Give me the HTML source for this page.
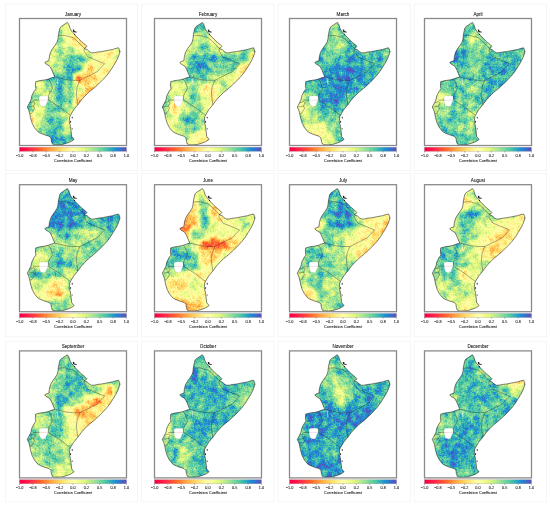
<!DOCTYPE html><html><head><meta charset="utf-8"><style>html,body{margin:0;padding:0;background:#fff;}svg{display:block;filter:saturate(1.35)}text{font-family:"Liberation Sans",sans-serif;stroke:#222;stroke-width:0.07px;}</style></head><body><svg width="550" height="507" viewBox="0 0 550 507"><defs><clipPath id="cl"><polygon points="47.9,3.9 49.3,6.0 50.7,10.3 52.1,12.5 54.0,14.7 56.5,17.6 59.4,20.5 62.3,23.4 65.2,25.6 67.4,27.8 66.5,29.0 64.8,29.8 66.0,30.6 67.6,31.0 69.6,32.9 71.8,34.3 74.7,34.3 77.6,33.6 82.1,33.1 87.6,32.0 93.0,31.0 96.3,29.9 99.0,29.3 100.1,31.5 100.1,34.8 98.5,39.1 96.3,43.5 93.6,47.9 90.9,52.2 87.6,56.6 83.5,61.0 79.0,65.5 74.0,70.0 69.0,74.0 65.5,77.5 62.0,81.3 58.1,86.6 54.2,91.3 51.8,95.3 50.2,98.4 49.8,103.2 51.0,107.9 51.6,112.6 52.2,118.0 54.6,120.9 51.4,123.1 47.8,124.5 43.2,125.9 38.7,126.3 35.0,126.3 32.8,125.4 31.9,122.7 31.4,119.5 29.6,117.7 25.0,116.3 20.5,114.5 18.1,113.0 14.9,109.1 12.7,104.8 11.0,99.3 10.3,95.4 9.3,91.8 7.8,88.5 10.0,84.4 11.5,81.2 12.3,77.3 14.3,73.3 16.5,70.2 15.9,67.8 16.2,63.2 20.5,62.1 25.5,61.4 28.8,60.6 32.3,59.2 35.3,58.5 34.3,56.2 33.3,53.8 32.3,51.3 30.4,47.8 28.5,46.6 26.4,45.4 25.3,43.9 27.0,42.9 29.4,42.3 29.9,38.0 31.0,33.7 33.4,29.7 35.7,26.6 37.7,23.4 38.5,20.3 38.9,16.3 39.7,12.4 40.5,9.2 42.1,7.7"/></clipPath><filter id="bl0" color-interpolation-filters="sRGB" x="-5%" y="-5%" width="110%" height="110%"><feGaussianBlur in="SourceGraphic" stdDeviation="2.7" result="sm"/><feTurbulence type="fractalNoise" baseFrequency="0.16" numOctaves="3" seed="3" result="nz"/><feColorMatrix in="nz" type="matrix" values="1 0 0 0 0 1 0 0 0 0 1 0 0 0 0 0 0 0 0 1" result="ng"/><feComposite in="sm" in2="ng" operator="arithmetic" k1="0" k2="1" k3="0.35" k4="-0.175" result="sum0"/><feTurbulence type="fractalNoise" baseFrequency="0.7" numOctaves="1" seed="7" result="nz2"/><feColorMatrix in="nz2" type="matrix" values="1 0 0 0 0 1 0 0 0 0 1 0 0 0 0 0 0 0 0 1" result="ng2"/><feComposite in="sum0" in2="ng2" operator="arithmetic" k1="0" k2="1" k3="0.25" k4="-0.125" result="sum"/><feComponentTransfer in="sum"><feFuncR type="table" tableValues="0.6196 0.8353 0.9569 0.9922 0.9961 1.0000 0.9020 0.6706 0.4000 0.1961 0.3686"/><feFuncG type="table" tableValues="0.0039 0.2431 0.4275 0.6824 0.8784 1.0000 0.9608 0.8667 0.7608 0.5333 0.3098"/><feFuncB type="table" tableValues="0.2588 0.3098 0.2627 0.3804 0.5451 0.7490 0.5961 0.6431 0.6471 0.7412 0.6353"/></feComponentTransfer></filter><filter id="bl1" color-interpolation-filters="sRGB" x="-5%" y="-5%" width="110%" height="110%"><feGaussianBlur in="SourceGraphic" stdDeviation="2.7" result="sm"/><feTurbulence type="fractalNoise" baseFrequency="0.16" numOctaves="3" seed="8" result="nz"/><feColorMatrix in="nz" type="matrix" values="1 0 0 0 0 1 0 0 0 0 1 0 0 0 0 0 0 0 0 1" result="ng"/><feComposite in="sm" in2="ng" operator="arithmetic" k1="0" k2="1" k3="0.35" k4="-0.175" result="sum0"/><feTurbulence type="fractalNoise" baseFrequency="0.7" numOctaves="1" seed="10" result="nz2"/><feColorMatrix in="nz2" type="matrix" values="1 0 0 0 0 1 0 0 0 0 1 0 0 0 0 0 0 0 0 1" result="ng2"/><feComposite in="sum0" in2="ng2" operator="arithmetic" k1="0" k2="1" k3="0.25" k4="-0.125" result="sum"/><feComponentTransfer in="sum"><feFuncR type="table" tableValues="0.6196 0.8353 0.9569 0.9922 0.9961 1.0000 0.9020 0.6706 0.4000 0.1961 0.3686"/><feFuncG type="table" tableValues="0.0039 0.2431 0.4275 0.6824 0.8784 1.0000 0.9608 0.8667 0.7608 0.5333 0.3098"/><feFuncB type="table" tableValues="0.2588 0.3098 0.2627 0.3804 0.5451 0.7490 0.5961 0.6431 0.6471 0.7412 0.6353"/></feComponentTransfer></filter><filter id="bl2" color-interpolation-filters="sRGB" x="-5%" y="-5%" width="110%" height="110%"><feGaussianBlur in="SourceGraphic" stdDeviation="2.7" result="sm"/><feTurbulence type="fractalNoise" baseFrequency="0.16" numOctaves="3" seed="13" result="nz"/><feColorMatrix in="nz" type="matrix" values="1 0 0 0 0 1 0 0 0 0 1 0 0 0 0 0 0 0 0 1" result="ng"/><feComposite in="sm" in2="ng" operator="arithmetic" k1="0" k2="1" k3="0.35" k4="-0.175" result="sum0"/><feTurbulence type="fractalNoise" baseFrequency="0.7" numOctaves="1" seed="13" result="nz2"/><feColorMatrix in="nz2" type="matrix" values="1 0 0 0 0 1 0 0 0 0 1 0 0 0 0 0 0 0 0 1" result="ng2"/><feComposite in="sum0" in2="ng2" operator="arithmetic" k1="0" k2="1" k3="0.25" k4="-0.125" result="sum"/><feComponentTransfer in="sum"><feFuncR type="table" tableValues="0.6196 0.8353 0.9569 0.9922 0.9961 1.0000 0.9020 0.6706 0.4000 0.1961 0.3686"/><feFuncG type="table" tableValues="0.0039 0.2431 0.4275 0.6824 0.8784 1.0000 0.9608 0.8667 0.7608 0.5333 0.3098"/><feFuncB type="table" tableValues="0.2588 0.3098 0.2627 0.3804 0.5451 0.7490 0.5961 0.6431 0.6471 0.7412 0.6353"/></feComponentTransfer></filter><filter id="bl3" color-interpolation-filters="sRGB" x="-5%" y="-5%" width="110%" height="110%"><feGaussianBlur in="SourceGraphic" stdDeviation="2.7" result="sm"/><feTurbulence type="fractalNoise" baseFrequency="0.16" numOctaves="3" seed="18" result="nz"/><feColorMatrix in="nz" type="matrix" values="1 0 0 0 0 1 0 0 0 0 1 0 0 0 0 0 0 0 0 1" result="ng"/><feComposite in="sm" in2="ng" operator="arithmetic" k1="0" k2="1" k3="0.35" k4="-0.175" result="sum0"/><feTurbulence type="fractalNoise" baseFrequency="0.7" numOctaves="1" seed="16" result="nz2"/><feColorMatrix in="nz2" type="matrix" values="1 0 0 0 0 1 0 0 0 0 1 0 0 0 0 0 0 0 0 1" result="ng2"/><feComposite in="sum0" in2="ng2" operator="arithmetic" k1="0" k2="1" k3="0.25" k4="-0.125" result="sum"/><feComponentTransfer in="sum"><feFuncR type="table" tableValues="0.6196 0.8353 0.9569 0.9922 0.9961 1.0000 0.9020 0.6706 0.4000 0.1961 0.3686"/><feFuncG type="table" tableValues="0.0039 0.2431 0.4275 0.6824 0.8784 1.0000 0.9608 0.8667 0.7608 0.5333 0.3098"/><feFuncB type="table" tableValues="0.2588 0.3098 0.2627 0.3804 0.5451 0.7490 0.5961 0.6431 0.6471 0.7412 0.6353"/></feComponentTransfer></filter><filter id="bl4" color-interpolation-filters="sRGB" x="-5%" y="-5%" width="110%" height="110%"><feGaussianBlur in="SourceGraphic" stdDeviation="2.7" result="sm"/><feTurbulence type="fractalNoise" baseFrequency="0.16" numOctaves="3" seed="23" result="nz"/><feColorMatrix in="nz" type="matrix" values="1 0 0 0 0 1 0 0 0 0 1 0 0 0 0 0 0 0 0 1" result="ng"/><feComposite in="sm" in2="ng" operator="arithmetic" k1="0" k2="1" k3="0.35" k4="-0.175" result="sum0"/><feTurbulence type="fractalNoise" baseFrequency="0.7" numOctaves="1" seed="19" result="nz2"/><feColorMatrix in="nz2" type="matrix" values="1 0 0 0 0 1 0 0 0 0 1 0 0 0 0 0 0 0 0 1" result="ng2"/><feComposite in="sum0" in2="ng2" operator="arithmetic" k1="0" k2="1" k3="0.25" k4="-0.125" result="sum"/><feComponentTransfer in="sum"><feFuncR type="table" tableValues="0.6196 0.8353 0.9569 0.9922 0.9961 1.0000 0.9020 0.6706 0.4000 0.1961 0.3686"/><feFuncG type="table" tableValues="0.0039 0.2431 0.4275 0.6824 0.8784 1.0000 0.9608 0.8667 0.7608 0.5333 0.3098"/><feFuncB type="table" tableValues="0.2588 0.3098 0.2627 0.3804 0.5451 0.7490 0.5961 0.6431 0.6471 0.7412 0.6353"/></feComponentTransfer></filter><filter id="bl5" color-interpolation-filters="sRGB" x="-5%" y="-5%" width="110%" height="110%"><feGaussianBlur in="SourceGraphic" stdDeviation="2.7" result="sm"/><feTurbulence type="fractalNoise" baseFrequency="0.16" numOctaves="3" seed="28" result="nz"/><feColorMatrix in="nz" type="matrix" values="1 0 0 0 0 1 0 0 0 0 1 0 0 0 0 0 0 0 0 1" result="ng"/><feComposite in="sm" in2="ng" operator="arithmetic" k1="0" k2="1" k3="0.35" k4="-0.175" result="sum0"/><feTurbulence type="fractalNoise" baseFrequency="0.7" numOctaves="1" seed="22" result="nz2"/><feColorMatrix in="nz2" type="matrix" values="1 0 0 0 0 1 0 0 0 0 1 0 0 0 0 0 0 0 0 1" result="ng2"/><feComposite in="sum0" in2="ng2" operator="arithmetic" k1="0" k2="1" k3="0.25" k4="-0.125" result="sum"/><feComponentTransfer in="sum"><feFuncR type="table" tableValues="0.6196 0.8353 0.9569 0.9922 0.9961 1.0000 0.9020 0.6706 0.4000 0.1961 0.3686"/><feFuncG type="table" tableValues="0.0039 0.2431 0.4275 0.6824 0.8784 1.0000 0.9608 0.8667 0.7608 0.5333 0.3098"/><feFuncB type="table" tableValues="0.2588 0.3098 0.2627 0.3804 0.5451 0.7490 0.5961 0.6431 0.6471 0.7412 0.6353"/></feComponentTransfer></filter><filter id="bl6" color-interpolation-filters="sRGB" x="-5%" y="-5%" width="110%" height="110%"><feGaussianBlur in="SourceGraphic" stdDeviation="2.7" result="sm"/><feTurbulence type="fractalNoise" baseFrequency="0.16" numOctaves="3" seed="33" result="nz"/><feColorMatrix in="nz" type="matrix" values="1 0 0 0 0 1 0 0 0 0 1 0 0 0 0 0 0 0 0 1" result="ng"/><feComposite in="sm" in2="ng" operator="arithmetic" k1="0" k2="1" k3="0.35" k4="-0.175" result="sum0"/><feTurbulence type="fractalNoise" baseFrequency="0.7" numOctaves="1" seed="25" result="nz2"/><feColorMatrix in="nz2" type="matrix" values="1 0 0 0 0 1 0 0 0 0 1 0 0 0 0 0 0 0 0 1" result="ng2"/><feComposite in="sum0" in2="ng2" operator="arithmetic" k1="0" k2="1" k3="0.25" k4="-0.125" result="sum"/><feComponentTransfer in="sum"><feFuncR type="table" tableValues="0.6196 0.8353 0.9569 0.9922 0.9961 1.0000 0.9020 0.6706 0.4000 0.1961 0.3686"/><feFuncG type="table" tableValues="0.0039 0.2431 0.4275 0.6824 0.8784 1.0000 0.9608 0.8667 0.7608 0.5333 0.3098"/><feFuncB type="table" tableValues="0.2588 0.3098 0.2627 0.3804 0.5451 0.7490 0.5961 0.6431 0.6471 0.7412 0.6353"/></feComponentTransfer></filter><filter id="bl7" color-interpolation-filters="sRGB" x="-5%" y="-5%" width="110%" height="110%"><feGaussianBlur in="SourceGraphic" stdDeviation="2.7" result="sm"/><feTurbulence type="fractalNoise" baseFrequency="0.16" numOctaves="3" seed="38" result="nz"/><feColorMatrix in="nz" type="matrix" values="1 0 0 0 0 1 0 0 0 0 1 0 0 0 0 0 0 0 0 1" result="ng"/><feComposite in="sm" in2="ng" operator="arithmetic" k1="0" k2="1" k3="0.35" k4="-0.175" result="sum0"/><feTurbulence type="fractalNoise" baseFrequency="0.7" numOctaves="1" seed="28" result="nz2"/><feColorMatrix in="nz2" type="matrix" values="1 0 0 0 0 1 0 0 0 0 1 0 0 0 0 0 0 0 0 1" result="ng2"/><feComposite in="sum0" in2="ng2" operator="arithmetic" k1="0" k2="1" k3="0.25" k4="-0.125" result="sum"/><feComponentTransfer in="sum"><feFuncR type="table" tableValues="0.6196 0.8353 0.9569 0.9922 0.9961 1.0000 0.9020 0.6706 0.4000 0.1961 0.3686"/><feFuncG type="table" tableValues="0.0039 0.2431 0.4275 0.6824 0.8784 1.0000 0.9608 0.8667 0.7608 0.5333 0.3098"/><feFuncB type="table" tableValues="0.2588 0.3098 0.2627 0.3804 0.5451 0.7490 0.5961 0.6431 0.6471 0.7412 0.6353"/></feComponentTransfer></filter><filter id="bl8" color-interpolation-filters="sRGB" x="-5%" y="-5%" width="110%" height="110%"><feGaussianBlur in="SourceGraphic" stdDeviation="2.7" result="sm"/><feTurbulence type="fractalNoise" baseFrequency="0.16" numOctaves="3" seed="43" result="nz"/><feColorMatrix in="nz" type="matrix" values="1 0 0 0 0 1 0 0 0 0 1 0 0 0 0 0 0 0 0 1" result="ng"/><feComposite in="sm" in2="ng" operator="arithmetic" k1="0" k2="1" k3="0.35" k4="-0.175" result="sum0"/><feTurbulence type="fractalNoise" baseFrequency="0.7" numOctaves="1" seed="31" result="nz2"/><feColorMatrix in="nz2" type="matrix" values="1 0 0 0 0 1 0 0 0 0 1 0 0 0 0 0 0 0 0 1" result="ng2"/><feComposite in="sum0" in2="ng2" operator="arithmetic" k1="0" k2="1" k3="0.25" k4="-0.125" result="sum"/><feComponentTransfer in="sum"><feFuncR type="table" tableValues="0.6196 0.8353 0.9569 0.9922 0.9961 1.0000 0.9020 0.6706 0.4000 0.1961 0.3686"/><feFuncG type="table" tableValues="0.0039 0.2431 0.4275 0.6824 0.8784 1.0000 0.9608 0.8667 0.7608 0.5333 0.3098"/><feFuncB type="table" tableValues="0.2588 0.3098 0.2627 0.3804 0.5451 0.7490 0.5961 0.6431 0.6471 0.7412 0.6353"/></feComponentTransfer></filter><filter id="bl9" color-interpolation-filters="sRGB" x="-5%" y="-5%" width="110%" height="110%"><feGaussianBlur in="SourceGraphic" stdDeviation="2.7" result="sm"/><feTurbulence type="fractalNoise" baseFrequency="0.16" numOctaves="3" seed="48" result="nz"/><feColorMatrix in="nz" type="matrix" values="1 0 0 0 0 1 0 0 0 0 1 0 0 0 0 0 0 0 0 1" result="ng"/><feComposite in="sm" in2="ng" operator="arithmetic" k1="0" k2="1" k3="0.35" k4="-0.175" result="sum0"/><feTurbulence type="fractalNoise" baseFrequency="0.7" numOctaves="1" seed="34" result="nz2"/><feColorMatrix in="nz2" type="matrix" values="1 0 0 0 0 1 0 0 0 0 1 0 0 0 0 0 0 0 0 1" result="ng2"/><feComposite in="sum0" in2="ng2" operator="arithmetic" k1="0" k2="1" k3="0.25" k4="-0.125" result="sum"/><feComponentTransfer in="sum"><feFuncR type="table" tableValues="0.6196 0.8353 0.9569 0.9922 0.9961 1.0000 0.9020 0.6706 0.4000 0.1961 0.3686"/><feFuncG type="table" tableValues="0.0039 0.2431 0.4275 0.6824 0.8784 1.0000 0.9608 0.8667 0.7608 0.5333 0.3098"/><feFuncB type="table" tableValues="0.2588 0.3098 0.2627 0.3804 0.5451 0.7490 0.5961 0.6431 0.6471 0.7412 0.6353"/></feComponentTransfer></filter><filter id="bl10" color-interpolation-filters="sRGB" x="-5%" y="-5%" width="110%" height="110%"><feGaussianBlur in="SourceGraphic" stdDeviation="2.7" result="sm"/><feTurbulence type="fractalNoise" baseFrequency="0.16" numOctaves="3" seed="53" result="nz"/><feColorMatrix in="nz" type="matrix" values="1 0 0 0 0 1 0 0 0 0 1 0 0 0 0 0 0 0 0 1" result="ng"/><feComposite in="sm" in2="ng" operator="arithmetic" k1="0" k2="1" k3="0.35" k4="-0.175" result="sum0"/><feTurbulence type="fractalNoise" baseFrequency="0.7" numOctaves="1" seed="37" result="nz2"/><feColorMatrix in="nz2" type="matrix" values="1 0 0 0 0 1 0 0 0 0 1 0 0 0 0 0 0 0 0 1" result="ng2"/><feComposite in="sum0" in2="ng2" operator="arithmetic" k1="0" k2="1" k3="0.25" k4="-0.125" result="sum"/><feComponentTransfer in="sum"><feFuncR type="table" tableValues="0.6196 0.8353 0.9569 0.9922 0.9961 1.0000 0.9020 0.6706 0.4000 0.1961 0.3686"/><feFuncG type="table" tableValues="0.0039 0.2431 0.4275 0.6824 0.8784 1.0000 0.9608 0.8667 0.7608 0.5333 0.3098"/><feFuncB type="table" tableValues="0.2588 0.3098 0.2627 0.3804 0.5451 0.7490 0.5961 0.6431 0.6471 0.7412 0.6353"/></feComponentTransfer></filter><filter id="bl11" color-interpolation-filters="sRGB" x="-5%" y="-5%" width="110%" height="110%"><feGaussianBlur in="SourceGraphic" stdDeviation="2.7" result="sm"/><feTurbulence type="fractalNoise" baseFrequency="0.16" numOctaves="3" seed="58" result="nz"/><feColorMatrix in="nz" type="matrix" values="1 0 0 0 0 1 0 0 0 0 1 0 0 0 0 0 0 0 0 1" result="ng"/><feComposite in="sm" in2="ng" operator="arithmetic" k1="0" k2="1" k3="0.35" k4="-0.175" result="sum0"/><feTurbulence type="fractalNoise" baseFrequency="0.7" numOctaves="1" seed="40" result="nz2"/><feColorMatrix in="nz2" type="matrix" values="1 0 0 0 0 1 0 0 0 0 1 0 0 0 0 0 0 0 0 1" result="ng2"/><feComposite in="sum0" in2="ng2" operator="arithmetic" k1="0" k2="1" k3="0.25" k4="-0.125" result="sum"/><feComponentTransfer in="sum"><feFuncR type="table" tableValues="0.6196 0.8353 0.9569 0.9922 0.9961 1.0000 0.9020 0.6706 0.4000 0.1961 0.3686"/><feFuncG type="table" tableValues="0.0039 0.2431 0.4275 0.6824 0.8784 1.0000 0.9608 0.8667 0.7608 0.5333 0.3098"/><feFuncB type="table" tableValues="0.2588 0.3098 0.2627 0.3804 0.5451 0.7490 0.5961 0.6431 0.6471 0.7412 0.6353"/></feComponentTransfer></filter><linearGradient id="cb"><stop offset="0.00" stop-color="#c4063f"/><stop offset="0.10" stop-color="#e0354e"/><stop offset="0.20" stop-color="#f46d43"/><stop offset="0.30" stop-color="#fdae61"/><stop offset="0.40" stop-color="#fee08b"/><stop offset="0.50" stop-color="#ffffbf"/><stop offset="0.60" stop-color="#e6f598"/><stop offset="0.70" stop-color="#abdda4"/><stop offset="0.80" stop-color="#66c2a5"/><stop offset="0.90" stop-color="#3288bd"/><stop offset="1.00" stop-color="#5e4fa2"/></linearGradient><g id="cbar"><rect x="0" y="128.8" width="107" height="4" fill="url(#cb)" stroke="#555" stroke-width="0.25" stroke-opacity="0.7"/><line x1="0.00" y1="132.8" x2="0.00" y2="133.9" stroke="#333" stroke-width="0.45"/><text x="0.00" y="138.5" font-size="3.8" text-anchor="middle" fill="#111">−1.0</text><line x1="13.38" y1="132.8" x2="13.38" y2="133.9" stroke="#333" stroke-width="0.45"/><text x="13.38" y="138.5" font-size="3.8" text-anchor="middle" fill="#111">−0.8</text><line x1="26.75" y1="132.8" x2="26.75" y2="133.9" stroke="#333" stroke-width="0.45"/><text x="26.75" y="138.5" font-size="3.8" text-anchor="middle" fill="#111">−0.5</text><line x1="40.12" y1="132.8" x2="40.12" y2="133.9" stroke="#333" stroke-width="0.45"/><text x="40.12" y="138.5" font-size="3.8" text-anchor="middle" fill="#111">−0.2</text><line x1="53.50" y1="132.8" x2="53.50" y2="133.9" stroke="#333" stroke-width="0.45"/><text x="53.50" y="138.5" font-size="3.8" text-anchor="middle" fill="#111">0.0</text><line x1="66.88" y1="132.8" x2="66.88" y2="133.9" stroke="#333" stroke-width="0.45"/><text x="66.88" y="138.5" font-size="3.8" text-anchor="middle" fill="#111">0.2</text><line x1="80.25" y1="132.8" x2="80.25" y2="133.9" stroke="#333" stroke-width="0.45"/><text x="80.25" y="138.5" font-size="3.8" text-anchor="middle" fill="#111">0.5</text><line x1="93.62" y1="132.8" x2="93.62" y2="133.9" stroke="#333" stroke-width="0.45"/><text x="93.62" y="138.5" font-size="3.8" text-anchor="middle" fill="#111">0.8</text><line x1="107.00" y1="132.8" x2="107.00" y2="133.9" stroke="#333" stroke-width="0.45"/><text x="107.00" y="138.5" font-size="3.8" text-anchor="middle" fill="#111">1.0</text><text x="53.5" y="143.3" font-size="3.85" text-anchor="middle" fill="#111">Correlation Coefficient</text></g><g id="bord" fill="none" stroke="#1c2030" stroke-width="0.45" stroke-opacity="0.85"><polyline points="38.9,17.3 45.2,16.9 49.2,18.1 52.5,18.6 55.5,20.6 58.5,23.5 61.5,26.5 64.8,29.8"/><polyline points="64.8,29.8 64.5,32.5 66.5,35.5 68.3,38.3 75.2,41.2 85.1,45.2 80.5,50.0 77.8,53.1 68.7,57.7 60.5,61.8"/><polyline points="60.5,61.8 53.2,61.8 47.0,61.2 42.3,60.0 35.3,58.5"/><polyline points="60.5,61.8 57.8,67.7 56.9,74.5 57.4,80.0 58.3,86.5"/><polyline points="28.8,60.6 30.6,63.0 32.3,67.2 32.9,70.1 31.7,72.5 30.0,74.8 29.1,77.2 28.8,81.6"/><polyline points="13.8,81.6 19.8,81.6"/><polyline points="28.9,81.5 40.0,88.5 50.5,96.5"/><polyline points="10.0,84.4 14.0,83.0 15.5,84.5 14.0,87.5 9.0,88.5"/><polyline points="14.0,87.5 15.0,90.0 12.0,95.0 10.3,95.4"/></g><g id="isl" fill="#1a1a1a"><path d="M53.3,11 L54.9,11.2 L54.7,12.6 L57.2,13.3 L57.3,14.1 L54.4,13.7 L53.6,13 Z"/><circle cx="55" cy="15.7" r="0.55"/><ellipse cx="52.7" cy="99.1" rx="0.5" ry="0.95"/><ellipse cx="51.1" cy="103.3" rx="0.5" ry="1.1"/><ellipse cx="52.7" cy="110.3" rx="0.5" ry="0.6"/><circle cx="100.6" cy="33.2" r="0.45"/></g></defs><rect x="5.3" y="4.1" width="132.4" height="166.4" fill="none" stroke="#f3f3f3" stroke-width="0.8"/><g transform="translate(19.5,18.5)"><text x="53.5" y="-3" font-size="4.6" text-anchor="middle" fill="#111">January</text><g clip-path="url(#cl)"><g filter="url(#bl0)"><rect x="-5" y="-5" width="10" height="10" fill="#b2b2b2"/><rect x="5" y="-5" width="10" height="10" fill="#b2b2b2"/><rect x="15" y="-5" width="10" height="10" fill="#b2b2b2"/><rect x="25" y="-5" width="10" height="10" fill="#b2b2b2"/><rect x="35" y="-5" width="10" height="10" fill="#b2b2b2"/><rect x="45" y="-5" width="10" height="10" fill="#999999"/><rect x="55" y="-5" width="10" height="10" fill="#8c8c8c"/><rect x="65" y="-5" width="10" height="10" fill="#828282"/><rect x="75" y="-5" width="10" height="10" fill="#808080"/><rect x="85" y="-5" width="10" height="10" fill="#808080"/><rect x="95" y="-5" width="10" height="10" fill="#999999"/><rect x="-5" y="5" width="10" height="10" fill="#b2b2b2"/><rect x="5" y="5" width="10" height="10" fill="#b2b2b2"/><rect x="15" y="5" width="10" height="10" fill="#b2b2b2"/><rect x="25" y="5" width="10" height="10" fill="#b2b2b2"/><rect x="35" y="5" width="10" height="10" fill="#b2b2b2"/><rect x="45" y="5" width="10" height="10" fill="#999999"/><rect x="55" y="5" width="10" height="10" fill="#7e7e7e"/><rect x="65" y="5" width="10" height="10" fill="#787878"/><rect x="75" y="5" width="10" height="10" fill="#808080"/><rect x="85" y="5" width="10" height="10" fill="#808080"/><rect x="95" y="5" width="10" height="10" fill="#999999"/><rect x="-5" y="15" width="10" height="10" fill="#9b9b9b"/><rect x="5" y="15" width="10" height="10" fill="#9c9c9c"/><rect x="15" y="15" width="10" height="10" fill="#9f9f9f"/><rect x="25" y="15" width="10" height="10" fill="#a6a6a6"/><rect x="35" y="15" width="10" height="10" fill="#b2b2b2"/><rect x="45" y="15" width="10" height="10" fill="#808080"/><rect x="55" y="15" width="10" height="10" fill="#636363"/><rect x="65" y="15" width="10" height="10" fill="#717171"/><rect x="75" y="15" width="10" height="10" fill="#808080"/><rect x="85" y="15" width="10" height="10" fill="#808080"/><rect x="95" y="15" width="10" height="10" fill="#999999"/><rect x="-5" y="25" width="10" height="10" fill="#999999"/><rect x="5" y="25" width="10" height="10" fill="#999999"/><rect x="15" y="25" width="10" height="10" fill="#999999"/><rect x="25" y="25" width="10" height="10" fill="#999999"/><rect x="35" y="25" width="10" height="10" fill="#b2b2b2"/><rect x="45" y="25" width="10" height="10" fill="#b2b2b2"/><rect x="55" y="25" width="10" height="10" fill="#808080"/><rect x="65" y="25" width="10" height="10" fill="#808080"/><rect x="75" y="25" width="10" height="10" fill="#808080"/><rect x="85" y="25" width="10" height="10" fill="#808080"/><rect x="95" y="25" width="10" height="10" fill="#999999"/><rect x="-5" y="35" width="10" height="10" fill="#999999"/><rect x="5" y="35" width="10" height="10" fill="#999999"/><rect x="15" y="35" width="10" height="10" fill="#999999"/><rect x="25" y="35" width="10" height="10" fill="#999999"/><rect x="35" y="35" width="10" height="10" fill="#b2b2b2"/><rect x="45" y="35" width="10" height="10" fill="#c8c8c8"/><rect x="55" y="35" width="10" height="10" fill="#d6d6d6"/><rect x="65" y="35" width="10" height="10" fill="#b2b2b2"/><rect x="75" y="35" width="10" height="10" fill="#808080"/><rect x="85" y="35" width="10" height="10" fill="#808080"/><rect x="95" y="35" width="10" height="10" fill="#999999"/><rect x="-5" y="45" width="10" height="10" fill="#afafaf"/><rect x="5" y="45" width="10" height="10" fill="#acacac"/><rect x="15" y="45" width="10" height="10" fill="#a6a6a6"/><rect x="25" y="45" width="10" height="10" fill="#999999"/><rect x="35" y="45" width="10" height="10" fill="#b2b2b2"/><rect x="45" y="45" width="10" height="10" fill="#e2e2e2"/><rect x="55" y="45" width="10" height="10" fill="#d6d6d6"/><rect x="65" y="45" width="10" height="10" fill="#636363"/><rect x="75" y="45" width="10" height="10" fill="#808080"/><rect x="85" y="45" width="10" height="10" fill="#808080"/><rect x="95" y="45" width="10" height="10" fill="#8c8c8c"/><rect x="-5" y="55" width="10" height="10" fill="#b2b2b2"/><rect x="5" y="55" width="10" height="10" fill="#b2b2b2"/><rect x="15" y="55" width="10" height="10" fill="#b2b2b2"/><rect x="25" y="55" width="10" height="10" fill="#d6d6d6"/><rect x="35" y="55" width="10" height="10" fill="#e2e2e2"/><rect x="45" y="55" width="10" height="10" fill="#d6d6d6"/><rect x="55" y="55" width="10" height="10" fill="#4a4a4a"/><rect x="65" y="55" width="10" height="10" fill="#636363"/><rect x="75" y="55" width="10" height="10" fill="#808080"/><rect x="85" y="55" width="10" height="10" fill="#808080"/><rect x="95" y="55" width="10" height="10" fill="#808080"/><rect x="-5" y="65" width="10" height="10" fill="#bcbcbc"/><rect x="5" y="65" width="10" height="10" fill="#b1b1b1"/><rect x="15" y="65" width="10" height="10" fill="#999999"/><rect x="25" y="65" width="10" height="10" fill="#b2b2b2"/><rect x="35" y="65" width="10" height="10" fill="#d6d6d6"/><rect x="45" y="65" width="10" height="10" fill="#c8c8c8"/><rect x="55" y="65" width="10" height="10" fill="#999999"/><rect x="65" y="65" width="10" height="10" fill="#636363"/><rect x="75" y="65" width="10" height="10" fill="#717171"/><rect x="85" y="65" width="10" height="10" fill="#808080"/><rect x="95" y="65" width="10" height="10" fill="#808080"/><rect x="-5" y="75" width="10" height="10" fill="#c8c8c8"/><rect x="5" y="75" width="10" height="10" fill="#c8c8c8"/><rect x="15" y="75" width="10" height="10" fill="#b2b2b2"/><rect x="25" y="75" width="10" height="10" fill="#b2b2b2"/><rect x="35" y="75" width="10" height="10" fill="#e2e2e2"/><rect x="45" y="75" width="10" height="10" fill="#c8c8c8"/><rect x="55" y="75" width="10" height="10" fill="#636363"/><rect x="65" y="75" width="10" height="10" fill="#636363"/><rect x="75" y="75" width="10" height="10" fill="#6a6a6a"/><rect x="85" y="75" width="10" height="10" fill="#808080"/><rect x="95" y="75" width="10" height="10" fill="#808080"/><rect x="-5" y="85" width="10" height="10" fill="#c8c8c8"/><rect x="5" y="85" width="10" height="10" fill="#c8c8c8"/><rect x="15" y="85" width="10" height="10" fill="#999999"/><rect x="25" y="85" width="10" height="10" fill="#c8c8c8"/><rect x="35" y="85" width="10" height="10" fill="#c8c8c8"/><rect x="45" y="85" width="10" height="10" fill="#b2b2b2"/><rect x="55" y="85" width="10" height="10" fill="#8b8b8b"/><rect x="65" y="85" width="10" height="10" fill="#777777"/><rect x="75" y="85" width="10" height="10" fill="#717171"/><rect x="85" y="85" width="10" height="10" fill="#808080"/><rect x="95" y="85" width="10" height="10" fill="#808080"/><rect x="-5" y="95" width="10" height="10" fill="#636363"/><rect x="5" y="95" width="10" height="10" fill="#636363"/><rect x="15" y="95" width="10" height="10" fill="#999999"/><rect x="25" y="95" width="10" height="10" fill="#d6d6d6"/><rect x="35" y="95" width="10" height="10" fill="#c8c8c8"/><rect x="45" y="95" width="10" height="10" fill="#999999"/><rect x="55" y="95" width="10" height="10" fill="#999999"/><rect x="65" y="95" width="10" height="10" fill="#999999"/><rect x="75" y="95" width="10" height="10" fill="#999999"/><rect x="85" y="95" width="10" height="10" fill="#8c8c8c"/><rect x="95" y="95" width="10" height="10" fill="#868686"/><rect x="-5" y="105" width="10" height="10" fill="#999999"/><rect x="5" y="105" width="10" height="10" fill="#999999"/><rect x="15" y="105" width="10" height="10" fill="#b2b2b2"/><rect x="25" y="105" width="10" height="10" fill="#d6d6d6"/><rect x="35" y="105" width="10" height="10" fill="#d6d6d6"/><rect x="45" y="105" width="10" height="10" fill="#999999"/><rect x="55" y="105" width="10" height="10" fill="#999999"/><rect x="65" y="105" width="10" height="10" fill="#999999"/><rect x="75" y="105" width="10" height="10" fill="#999999"/><rect x="85" y="105" width="10" height="10" fill="#999999"/><rect x="95" y="105" width="10" height="10" fill="#999999"/><rect x="-5" y="115" width="10" height="10" fill="#9f9f9f"/><rect x="5" y="115" width="10" height="10" fill="#a6a6a6"/><rect x="15" y="115" width="10" height="10" fill="#b2b2b2"/><rect x="25" y="115" width="10" height="10" fill="#e2e2e2"/><rect x="35" y="115" width="10" height="10" fill="#e2e2e2"/><rect x="45" y="115" width="10" height="10" fill="#d6d6d6"/><rect x="55" y="115" width="10" height="10" fill="#d6d6d6"/><rect x="65" y="115" width="10" height="10" fill="#d6d6d6"/><rect x="75" y="115" width="10" height="10" fill="#d6d6d6"/><rect x="85" y="115" width="10" height="10" fill="#d6d6d6"/><rect x="95" y="115" width="10" height="10" fill="#d6d6d6"/><rect x="-5" y="125" width="10" height="10" fill="#a6a6a6"/><rect x="5" y="125" width="10" height="10" fill="#acacac"/><rect x="15" y="125" width="10" height="10" fill="#b2b2b2"/><rect x="25" y="125" width="10" height="10" fill="#e2e2e2"/><rect x="35" y="125" width="10" height="10" fill="#e2e2e2"/><rect x="45" y="125" width="10" height="10" fill="#d6d6d6"/><rect x="55" y="125" width="10" height="10" fill="#d6d6d6"/><rect x="65" y="125" width="10" height="10" fill="#d6d6d6"/><rect x="75" y="125" width="10" height="10" fill="#d6d6d6"/><rect x="85" y="125" width="10" height="10" fill="#d6d6d6"/><rect x="95" y="125" width="10" height="10" fill="#d6d6d6"/></g></g><polygon points="19.6,78.5 20.5,77.6 22.5,77.4 25.0,77.3 27.5,77.4 28.6,78.0 28.8,81.6 27.2,84.4 26.0,87.6 23.6,88.1 21.0,87.0 20.0,84.6 19.6,82.0" fill="#fff" stroke="#666" stroke-width="0.25" stroke-opacity="0.4"/><polyline points="37.5,59.2 37.9,62 38.5,66.3" fill="none" stroke="#fff" stroke-width="0.9" stroke-opacity="0.6"/><line x1="19.8" y1="81.7" x2="28.8" y2="81.7" stroke="#9a7a70" stroke-width="0.35" stroke-opacity="0.6"/><use href="#bord"/><use href="#isl"/><polygon points="47.9,3.9 49.3,6.0 50.7,10.3 52.1,12.5 54.0,14.7 56.5,17.6 59.4,20.5 62.3,23.4 65.2,25.6 67.4,27.8 66.5,29.0 64.8,29.8 66.0,30.6 67.6,31.0 69.6,32.9 71.8,34.3 74.7,34.3 77.6,33.6 82.1,33.1 87.6,32.0 93.0,31.0 96.3,29.9 99.0,29.3 100.1,31.5 100.1,34.8 98.5,39.1 96.3,43.5 93.6,47.9 90.9,52.2 87.6,56.6 83.5,61.0 79.0,65.5 74.0,70.0 69.0,74.0 65.5,77.5 62.0,81.3 58.1,86.6 54.2,91.3 51.8,95.3 50.2,98.4 49.8,103.2 51.0,107.9 51.6,112.6 52.2,118.0 54.6,120.9 51.4,123.1 47.8,124.5 43.2,125.9 38.7,126.3 35.0,126.3 32.8,125.4 31.9,122.7 31.4,119.5 29.6,117.7 25.0,116.3 20.5,114.5 18.1,113.0 14.9,109.1 12.7,104.8 11.0,99.3 10.3,95.4 9.3,91.8 7.8,88.5 10.0,84.4 11.5,81.2 12.3,77.3 14.3,73.3 16.5,70.2 15.9,67.8 16.2,63.2 20.5,62.1 25.5,61.4 28.8,60.6 32.3,59.2 35.3,58.5 34.3,56.2 33.3,53.8 32.3,51.3 30.4,47.8 28.5,46.6 26.4,45.4 25.3,43.9 27.0,42.9 29.4,42.3 29.9,38.0 31.0,33.7 33.4,29.7 35.7,26.6 37.7,23.4 38.5,20.3 38.9,16.3 39.7,12.4 40.5,9.2 42.1,7.7" fill="none" stroke="#151515" stroke-width="0.6" stroke-opacity="0.9"/><rect x="0" y="0" width="107" height="127" fill="none" stroke="#8a8a8a" stroke-width="1.3"/><use href="#cbar"/></g><rect x="141.6" y="4.1" width="132.4" height="166.4" fill="none" stroke="#f3f3f3" stroke-width="0.8"/><g transform="translate(154.5,18.5)"><text x="53.5" y="-3" font-size="4.6" text-anchor="middle" fill="#111">February</text><g clip-path="url(#cl)"><g filter="url(#bl1)"><rect x="-5" y="-5" width="10" height="10" fill="#d6d6d6"/><rect x="5" y="-5" width="10" height="10" fill="#d6d6d6"/><rect x="15" y="-5" width="10" height="10" fill="#d6d6d6"/><rect x="25" y="-5" width="10" height="10" fill="#d6d6d6"/><rect x="35" y="-5" width="10" height="10" fill="#d6d6d6"/><rect x="45" y="-5" width="10" height="10" fill="#c8c8c8"/><rect x="55" y="-5" width="10" height="10" fill="#b6b6b6"/><rect x="65" y="-5" width="10" height="10" fill="#a4a4a4"/><rect x="75" y="-5" width="10" height="10" fill="#999999"/><rect x="85" y="-5" width="10" height="10" fill="#d6d6d6"/><rect x="95" y="-5" width="10" height="10" fill="#b2b2b2"/><rect x="-5" y="5" width="10" height="10" fill="#d6d6d6"/><rect x="5" y="5" width="10" height="10" fill="#d6d6d6"/><rect x="15" y="5" width="10" height="10" fill="#d6d6d6"/><rect x="25" y="5" width="10" height="10" fill="#d6d6d6"/><rect x="35" y="5" width="10" height="10" fill="#d6d6d6"/><rect x="45" y="5" width="10" height="10" fill="#c8c8c8"/><rect x="55" y="5" width="10" height="10" fill="#a4a4a4"/><rect x="65" y="5" width="10" height="10" fill="#929292"/><rect x="75" y="5" width="10" height="10" fill="#999999"/><rect x="85" y="5" width="10" height="10" fill="#d6d6d6"/><rect x="95" y="5" width="10" height="10" fill="#b2b2b2"/><rect x="-5" y="15" width="10" height="10" fill="#999999"/><rect x="5" y="15" width="10" height="10" fill="#999999"/><rect x="15" y="15" width="10" height="10" fill="#999999"/><rect x="25" y="15" width="10" height="10" fill="#999999"/><rect x="35" y="15" width="10" height="10" fill="#999999"/><rect x="45" y="15" width="10" height="10" fill="#b2b2b2"/><rect x="55" y="15" width="10" height="10" fill="#808080"/><rect x="65" y="15" width="10" height="10" fill="#808080"/><rect x="75" y="15" width="10" height="10" fill="#999999"/><rect x="85" y="15" width="10" height="10" fill="#d6d6d6"/><rect x="95" y="15" width="10" height="10" fill="#b2b2b2"/><rect x="-5" y="25" width="10" height="10" fill="#999999"/><rect x="5" y="25" width="10" height="10" fill="#999999"/><rect x="15" y="25" width="10" height="10" fill="#999999"/><rect x="25" y="25" width="10" height="10" fill="#999999"/><rect x="35" y="25" width="10" height="10" fill="#b2b2b2"/><rect x="45" y="25" width="10" height="10" fill="#c8c8c8"/><rect x="55" y="25" width="10" height="10" fill="#b2b2b2"/><rect x="65" y="25" width="10" height="10" fill="#808080"/><rect x="75" y="25" width="10" height="10" fill="#999999"/><rect x="85" y="25" width="10" height="10" fill="#d6d6d6"/><rect x="95" y="25" width="10" height="10" fill="#b2b2b2"/><rect x="-5" y="35" width="10" height="10" fill="#999999"/><rect x="5" y="35" width="10" height="10" fill="#999999"/><rect x="15" y="35" width="10" height="10" fill="#999999"/><rect x="25" y="35" width="10" height="10" fill="#999999"/><rect x="35" y="35" width="10" height="10" fill="#e2e2e2"/><rect x="45" y="35" width="10" height="10" fill="#e2e2e2"/><rect x="55" y="35" width="10" height="10" fill="#d6d6d6"/><rect x="65" y="35" width="10" height="10" fill="#d6d6d6"/><rect x="75" y="35" width="10" height="10" fill="#d6d6d6"/><rect x="85" y="35" width="10" height="10" fill="#e2e2e2"/><rect x="95" y="35" width="10" height="10" fill="#4a4a4a"/><rect x="-5" y="45" width="10" height="10" fill="#b2b2b2"/><rect x="5" y="45" width="10" height="10" fill="#b2b2b2"/><rect x="15" y="45" width="10" height="10" fill="#b2b2b2"/><rect x="25" y="45" width="10" height="10" fill="#b2b2b2"/><rect x="35" y="45" width="10" height="10" fill="#ececec"/><rect x="45" y="45" width="10" height="10" fill="#e2e2e2"/><rect x="55" y="45" width="10" height="10" fill="#c8c8c8"/><rect x="65" y="45" width="10" height="10" fill="#c8c8c8"/><rect x="75" y="45" width="10" height="10" fill="#c8c8c8"/><rect x="85" y="45" width="10" height="10" fill="#636363"/><rect x="95" y="45" width="10" height="10" fill="#575757"/><rect x="-5" y="55" width="10" height="10" fill="#b2b2b2"/><rect x="5" y="55" width="10" height="10" fill="#b2b2b2"/><rect x="15" y="55" width="10" height="10" fill="#b2b2b2"/><rect x="25" y="55" width="10" height="10" fill="#c8c8c8"/><rect x="35" y="55" width="10" height="10" fill="#c8c8c8"/><rect x="45" y="55" width="10" height="10" fill="#d6d6d6"/><rect x="55" y="55" width="10" height="10" fill="#b2b2b2"/><rect x="65" y="55" width="10" height="10" fill="#b2b2b2"/><rect x="75" y="55" width="10" height="10" fill="#808080"/><rect x="85" y="55" width="10" height="10" fill="#808080"/><rect x="95" y="55" width="10" height="10" fill="#808080"/><rect x="-5" y="65" width="10" height="10" fill="#bcbcbc"/><rect x="5" y="65" width="10" height="10" fill="#b1b1b1"/><rect x="15" y="65" width="10" height="10" fill="#999999"/><rect x="25" y="65" width="10" height="10" fill="#999999"/><rect x="35" y="65" width="10" height="10" fill="#c8c8c8"/><rect x="45" y="65" width="10" height="10" fill="#636363"/><rect x="55" y="65" width="10" height="10" fill="#808080"/><rect x="65" y="65" width="10" height="10" fill="#b2b2b2"/><rect x="75" y="65" width="10" height="10" fill="#999999"/><rect x="85" y="65" width="10" height="10" fill="#808080"/><rect x="95" y="65" width="10" height="10" fill="#808080"/><rect x="-5" y="75" width="10" height="10" fill="#c8c8c8"/><rect x="5" y="75" width="10" height="10" fill="#c8c8c8"/><rect x="15" y="75" width="10" height="10" fill="#999999"/><rect x="25" y="75" width="10" height="10" fill="#b2b2b2"/><rect x="35" y="75" width="10" height="10" fill="#d6d6d6"/><rect x="45" y="75" width="10" height="10" fill="#999999"/><rect x="55" y="75" width="10" height="10" fill="#808080"/><rect x="65" y="75" width="10" height="10" fill="#999999"/><rect x="75" y="75" width="10" height="10" fill="#999999"/><rect x="85" y="75" width="10" height="10" fill="#808080"/><rect x="95" y="75" width="10" height="10" fill="#808080"/><rect x="-5" y="85" width="10" height="10" fill="#c8c8c8"/><rect x="5" y="85" width="10" height="10" fill="#c8c8c8"/><rect x="15" y="85" width="10" height="10" fill="#636363"/><rect x="25" y="85" width="10" height="10" fill="#999999"/><rect x="35" y="85" width="10" height="10" fill="#c8c8c8"/><rect x="45" y="85" width="10" height="10" fill="#999999"/><rect x="55" y="85" width="10" height="10" fill="#8c8c8c"/><rect x="65" y="85" width="10" height="10" fill="#939393"/><rect x="75" y="85" width="10" height="10" fill="#969696"/><rect x="85" y="85" width="10" height="10" fill="#808080"/><rect x="95" y="85" width="10" height="10" fill="#808080"/><rect x="-5" y="95" width="10" height="10" fill="#999999"/><rect x="5" y="95" width="10" height="10" fill="#999999"/><rect x="15" y="95" width="10" height="10" fill="#999999"/><rect x="25" y="95" width="10" height="10" fill="#d6d6d6"/><rect x="35" y="95" width="10" height="10" fill="#d6d6d6"/><rect x="45" y="95" width="10" height="10" fill="#b2b2b2"/><rect x="55" y="95" width="10" height="10" fill="#b2b2b2"/><rect x="65" y="95" width="10" height="10" fill="#b2b2b2"/><rect x="75" y="95" width="10" height="10" fill="#b2b2b2"/><rect x="85" y="95" width="10" height="10" fill="#999999"/><rect x="95" y="95" width="10" height="10" fill="#8c8c8c"/><rect x="-5" y="105" width="10" height="10" fill="#808080"/><rect x="5" y="105" width="10" height="10" fill="#808080"/><rect x="15" y="105" width="10" height="10" fill="#999999"/><rect x="25" y="105" width="10" height="10" fill="#c8c8c8"/><rect x="35" y="105" width="10" height="10" fill="#c8c8c8"/><rect x="45" y="105" width="10" height="10" fill="#999999"/><rect x="55" y="105" width="10" height="10" fill="#999999"/><rect x="65" y="105" width="10" height="10" fill="#999999"/><rect x="75" y="105" width="10" height="10" fill="#999999"/><rect x="85" y="105" width="10" height="10" fill="#999999"/><rect x="95" y="105" width="10" height="10" fill="#999999"/><rect x="-5" y="115" width="10" height="10" fill="#808080"/><rect x="5" y="115" width="10" height="10" fill="#808080"/><rect x="15" y="115" width="10" height="10" fill="#808080"/><rect x="25" y="115" width="10" height="10" fill="#b2b2b2"/><rect x="35" y="115" width="10" height="10" fill="#808080"/><rect x="45" y="115" width="10" height="10" fill="#808080"/><rect x="55" y="115" width="10" height="10" fill="#808080"/><rect x="65" y="115" width="10" height="10" fill="#808080"/><rect x="75" y="115" width="10" height="10" fill="#808080"/><rect x="85" y="115" width="10" height="10" fill="#808080"/><rect x="95" y="115" width="10" height="10" fill="#808080"/><rect x="-5" y="125" width="10" height="10" fill="#808080"/><rect x="5" y="125" width="10" height="10" fill="#808080"/><rect x="15" y="125" width="10" height="10" fill="#808080"/><rect x="25" y="125" width="10" height="10" fill="#b2b2b2"/><rect x="35" y="125" width="10" height="10" fill="#808080"/><rect x="45" y="125" width="10" height="10" fill="#808080"/><rect x="55" y="125" width="10" height="10" fill="#808080"/><rect x="65" y="125" width="10" height="10" fill="#808080"/><rect x="75" y="125" width="10" height="10" fill="#808080"/><rect x="85" y="125" width="10" height="10" fill="#808080"/><rect x="95" y="125" width="10" height="10" fill="#808080"/></g></g><polygon points="19.6,78.5 20.5,77.6 22.5,77.4 25.0,77.3 27.5,77.4 28.6,78.0 28.8,81.6 27.2,84.4 26.0,87.6 23.6,88.1 21.0,87.0 20.0,84.6 19.6,82.0" fill="#fff" stroke="#666" stroke-width="0.25" stroke-opacity="0.4"/><polyline points="37.5,59.2 37.9,62 38.5,66.3" fill="none" stroke="#fff" stroke-width="0.9" stroke-opacity="0.6"/><line x1="19.8" y1="81.7" x2="28.8" y2="81.7" stroke="#9a7a70" stroke-width="0.35" stroke-opacity="0.6"/><use href="#bord"/><use href="#isl"/><polygon points="47.9,3.9 49.3,6.0 50.7,10.3 52.1,12.5 54.0,14.7 56.5,17.6 59.4,20.5 62.3,23.4 65.2,25.6 67.4,27.8 66.5,29.0 64.8,29.8 66.0,30.6 67.6,31.0 69.6,32.9 71.8,34.3 74.7,34.3 77.6,33.6 82.1,33.1 87.6,32.0 93.0,31.0 96.3,29.9 99.0,29.3 100.1,31.5 100.1,34.8 98.5,39.1 96.3,43.5 93.6,47.9 90.9,52.2 87.6,56.6 83.5,61.0 79.0,65.5 74.0,70.0 69.0,74.0 65.5,77.5 62.0,81.3 58.1,86.6 54.2,91.3 51.8,95.3 50.2,98.4 49.8,103.2 51.0,107.9 51.6,112.6 52.2,118.0 54.6,120.9 51.4,123.1 47.8,124.5 43.2,125.9 38.7,126.3 35.0,126.3 32.8,125.4 31.9,122.7 31.4,119.5 29.6,117.7 25.0,116.3 20.5,114.5 18.1,113.0 14.9,109.1 12.7,104.8 11.0,99.3 10.3,95.4 9.3,91.8 7.8,88.5 10.0,84.4 11.5,81.2 12.3,77.3 14.3,73.3 16.5,70.2 15.9,67.8 16.2,63.2 20.5,62.1 25.5,61.4 28.8,60.6 32.3,59.2 35.3,58.5 34.3,56.2 33.3,53.8 32.3,51.3 30.4,47.8 28.5,46.6 26.4,45.4 25.3,43.9 27.0,42.9 29.4,42.3 29.9,38.0 31.0,33.7 33.4,29.7 35.7,26.6 37.7,23.4 38.5,20.3 38.9,16.3 39.7,12.4 40.5,9.2 42.1,7.7" fill="none" stroke="#151515" stroke-width="0.6" stroke-opacity="0.9"/><rect x="0" y="0" width="107" height="127" fill="none" stroke="#8a8a8a" stroke-width="1.3"/><use href="#cbar"/></g><rect x="277.9" y="4.1" width="132.4" height="166.4" fill="none" stroke="#f3f3f3" stroke-width="0.8"/><g transform="translate(289.5,18.5)"><text x="53.5" y="-3" font-size="4.6" text-anchor="middle" fill="#111">March</text><g clip-path="url(#cl)"><g filter="url(#bl2)"><rect x="-5" y="-5" width="10" height="10" fill="#b2b2b2"/><rect x="5" y="-5" width="10" height="10" fill="#b2b2b2"/><rect x="15" y="-5" width="10" height="10" fill="#b2b2b2"/><rect x="25" y="-5" width="10" height="10" fill="#b2b2b2"/><rect x="35" y="-5" width="10" height="10" fill="#b2b2b2"/><rect x="45" y="-5" width="10" height="10" fill="#d6d6d6"/><rect x="55" y="-5" width="10" height="10" fill="#d6d6d6"/><rect x="65" y="-5" width="10" height="10" fill="#d6d6d6"/><rect x="75" y="-5" width="10" height="10" fill="#d6d6d6"/><rect x="85" y="-5" width="10" height="10" fill="#d6d6d6"/><rect x="95" y="-5" width="10" height="10" fill="#c8c8c8"/><rect x="-5" y="5" width="10" height="10" fill="#b2b2b2"/><rect x="5" y="5" width="10" height="10" fill="#b2b2b2"/><rect x="15" y="5" width="10" height="10" fill="#b2b2b2"/><rect x="25" y="5" width="10" height="10" fill="#b2b2b2"/><rect x="35" y="5" width="10" height="10" fill="#b2b2b2"/><rect x="45" y="5" width="10" height="10" fill="#d6d6d6"/><rect x="55" y="5" width="10" height="10" fill="#d6d6d6"/><rect x="65" y="5" width="10" height="10" fill="#d6d6d6"/><rect x="75" y="5" width="10" height="10" fill="#d6d6d6"/><rect x="85" y="5" width="10" height="10" fill="#d6d6d6"/><rect x="95" y="5" width="10" height="10" fill="#c8c8c8"/><rect x="-5" y="15" width="10" height="10" fill="#d5d5d5"/><rect x="5" y="15" width="10" height="10" fill="#d4d4d4"/><rect x="15" y="15" width="10" height="10" fill="#d3d3d3"/><rect x="25" y="15" width="10" height="10" fill="#cfcfcf"/><rect x="35" y="15" width="10" height="10" fill="#c8c8c8"/><rect x="45" y="15" width="10" height="10" fill="#b2b2b2"/><rect x="55" y="15" width="10" height="10" fill="#d6d6d6"/><rect x="65" y="15" width="10" height="10" fill="#d6d6d6"/><rect x="75" y="15" width="10" height="10" fill="#d6d6d6"/><rect x="85" y="15" width="10" height="10" fill="#d6d6d6"/><rect x="95" y="15" width="10" height="10" fill="#c8c8c8"/><rect x="-5" y="25" width="10" height="10" fill="#d6d6d6"/><rect x="5" y="25" width="10" height="10" fill="#d6d6d6"/><rect x="15" y="25" width="10" height="10" fill="#d6d6d6"/><rect x="25" y="25" width="10" height="10" fill="#d6d6d6"/><rect x="35" y="25" width="10" height="10" fill="#c8c8c8"/><rect x="45" y="25" width="10" height="10" fill="#b2b2b2"/><rect x="55" y="25" width="10" height="10" fill="#d6d6d6"/><rect x="65" y="25" width="10" height="10" fill="#d6d6d6"/><rect x="75" y="25" width="10" height="10" fill="#d6d6d6"/><rect x="85" y="25" width="10" height="10" fill="#d6d6d6"/><rect x="95" y="25" width="10" height="10" fill="#c8c8c8"/><rect x="-5" y="35" width="10" height="10" fill="#e2e2e2"/><rect x="5" y="35" width="10" height="10" fill="#e2e2e2"/><rect x="15" y="35" width="10" height="10" fill="#e2e2e2"/><rect x="25" y="35" width="10" height="10" fill="#e2e2e2"/><rect x="35" y="35" width="10" height="10" fill="#c8c8c8"/><rect x="45" y="35" width="10" height="10" fill="#d6d6d6"/><rect x="55" y="35" width="10" height="10" fill="#e2e2e2"/><rect x="65" y="35" width="10" height="10" fill="#e2e2e2"/><rect x="75" y="35" width="10" height="10" fill="#d6d6d6"/><rect x="85" y="35" width="10" height="10" fill="#d6d6d6"/><rect x="95" y="35" width="10" height="10" fill="#c8c8c8"/><rect x="-5" y="45" width="10" height="10" fill="#dedede"/><rect x="5" y="45" width="10" height="10" fill="#dbdbdb"/><rect x="15" y="45" width="10" height="10" fill="#d5d5d5"/><rect x="25" y="45" width="10" height="10" fill="#c8c8c8"/><rect x="35" y="45" width="10" height="10" fill="#ececec"/><rect x="45" y="45" width="10" height="10" fill="#ececec"/><rect x="55" y="45" width="10" height="10" fill="#f5f5f5"/><rect x="65" y="45" width="10" height="10" fill="#ececec"/><rect x="75" y="45" width="10" height="10" fill="#e2e2e2"/><rect x="85" y="45" width="10" height="10" fill="#d6d6d6"/><rect x="95" y="45" width="10" height="10" fill="#cfcfcf"/><rect x="-5" y="55" width="10" height="10" fill="#e2e2e2"/><rect x="5" y="55" width="10" height="10" fill="#e2e2e2"/><rect x="15" y="55" width="10" height="10" fill="#e2e2e2"/><rect x="25" y="55" width="10" height="10" fill="#e2e2e2"/><rect x="35" y="55" width="10" height="10" fill="#ececec"/><rect x="45" y="55" width="10" height="10" fill="#f5f5f5"/><rect x="55" y="55" width="10" height="10" fill="#ececec"/><rect x="65" y="55" width="10" height="10" fill="#ececec"/><rect x="75" y="55" width="10" height="10" fill="#e2e2e2"/><rect x="85" y="55" width="10" height="10" fill="#c8c8c8"/><rect x="95" y="55" width="10" height="10" fill="#c8c8c8"/><rect x="-5" y="65" width="10" height="10" fill="#a5a5a5"/><rect x="5" y="65" width="10" height="10" fill="#b1b1b1"/><rect x="15" y="65" width="10" height="10" fill="#c8c8c8"/><rect x="25" y="65" width="10" height="10" fill="#e2e2e2"/><rect x="35" y="65" width="10" height="10" fill="#ececec"/><rect x="45" y="65" width="10" height="10" fill="#f5f5f5"/><rect x="55" y="65" width="10" height="10" fill="#ececec"/><rect x="65" y="65" width="10" height="10" fill="#d6d6d6"/><rect x="75" y="65" width="10" height="10" fill="#dcdcdc"/><rect x="85" y="65" width="10" height="10" fill="#c8c8c8"/><rect x="95" y="65" width="10" height="10" fill="#c8c8c8"/><rect x="-5" y="75" width="10" height="10" fill="#999999"/><rect x="5" y="75" width="10" height="10" fill="#999999"/><rect x="15" y="75" width="10" height="10" fill="#c8c8c8"/><rect x="25" y="75" width="10" height="10" fill="#e2e2e2"/><rect x="35" y="75" width="10" height="10" fill="#f5f5f5"/><rect x="45" y="75" width="10" height="10" fill="#ececec"/><rect x="55" y="75" width="10" height="10" fill="#d6d6d6"/><rect x="65" y="75" width="10" height="10" fill="#d6d6d6"/><rect x="75" y="75" width="10" height="10" fill="#d9d9d9"/><rect x="85" y="75" width="10" height="10" fill="#c8c8c8"/><rect x="95" y="75" width="10" height="10" fill="#c8c8c8"/><rect x="-5" y="85" width="10" height="10" fill="#808080"/><rect x="5" y="85" width="10" height="10" fill="#808080"/><rect x="15" y="85" width="10" height="10" fill="#b2b2b2"/><rect x="25" y="85" width="10" height="10" fill="#d6d6d6"/><rect x="35" y="85" width="10" height="10" fill="#e2e2e2"/><rect x="45" y="85" width="10" height="10" fill="#d6d6d6"/><rect x="55" y="85" width="10" height="10" fill="#d6d6d6"/><rect x="65" y="85" width="10" height="10" fill="#d6d6d6"/><rect x="75" y="85" width="10" height="10" fill="#d8d8d8"/><rect x="85" y="85" width="10" height="10" fill="#c8c8c8"/><rect x="95" y="85" width="10" height="10" fill="#c8c8c8"/><rect x="-5" y="95" width="10" height="10" fill="#c8c8c8"/><rect x="5" y="95" width="10" height="10" fill="#c8c8c8"/><rect x="15" y="95" width="10" height="10" fill="#999999"/><rect x="25" y="95" width="10" height="10" fill="#c8c8c8"/><rect x="35" y="95" width="10" height="10" fill="#c8c8c8"/><rect x="45" y="95" width="10" height="10" fill="#c8c8c8"/><rect x="55" y="95" width="10" height="10" fill="#c8c8c8"/><rect x="65" y="95" width="10" height="10" fill="#c8c8c8"/><rect x="75" y="95" width="10" height="10" fill="#c8c8c8"/><rect x="85" y="95" width="10" height="10" fill="#c8c8c8"/><rect x="95" y="95" width="10" height="10" fill="#c8c8c8"/><rect x="-5" y="105" width="10" height="10" fill="#b2b2b2"/><rect x="5" y="105" width="10" height="10" fill="#b2b2b2"/><rect x="15" y="105" width="10" height="10" fill="#999999"/><rect x="25" y="105" width="10" height="10" fill="#808080"/><rect x="35" y="105" width="10" height="10" fill="#b2b2b2"/><rect x="45" y="105" width="10" height="10" fill="#c8c8c8"/><rect x="55" y="105" width="10" height="10" fill="#c8c8c8"/><rect x="65" y="105" width="10" height="10" fill="#c8c8c8"/><rect x="75" y="105" width="10" height="10" fill="#c8c8c8"/><rect x="85" y="105" width="10" height="10" fill="#c8c8c8"/><rect x="95" y="105" width="10" height="10" fill="#c8c8c8"/><rect x="-5" y="115" width="10" height="10" fill="#acacac"/><rect x="5" y="115" width="10" height="10" fill="#a6a6a6"/><rect x="15" y="115" width="10" height="10" fill="#999999"/><rect x="25" y="115" width="10" height="10" fill="#808080"/><rect x="35" y="115" width="10" height="10" fill="#999999"/><rect x="45" y="115" width="10" height="10" fill="#c8c8c8"/><rect x="55" y="115" width="10" height="10" fill="#c8c8c8"/><rect x="65" y="115" width="10" height="10" fill="#c8c8c8"/><rect x="75" y="115" width="10" height="10" fill="#c8c8c8"/><rect x="85" y="115" width="10" height="10" fill="#c8c8c8"/><rect x="95" y="115" width="10" height="10" fill="#c8c8c8"/><rect x="-5" y="125" width="10" height="10" fill="#a6a6a6"/><rect x="5" y="125" width="10" height="10" fill="#9f9f9f"/><rect x="15" y="125" width="10" height="10" fill="#999999"/><rect x="25" y="125" width="10" height="10" fill="#808080"/><rect x="35" y="125" width="10" height="10" fill="#999999"/><rect x="45" y="125" width="10" height="10" fill="#c8c8c8"/><rect x="55" y="125" width="10" height="10" fill="#c8c8c8"/><rect x="65" y="125" width="10" height="10" fill="#c8c8c8"/><rect x="75" y="125" width="10" height="10" fill="#c8c8c8"/><rect x="85" y="125" width="10" height="10" fill="#c8c8c8"/><rect x="95" y="125" width="10" height="10" fill="#c8c8c8"/></g></g><polygon points="19.6,78.5 20.5,77.6 22.5,77.4 25.0,77.3 27.5,77.4 28.6,78.0 28.8,81.6 27.2,84.4 26.0,87.6 23.6,88.1 21.0,87.0 20.0,84.6 19.6,82.0" fill="#fff" stroke="#666" stroke-width="0.25" stroke-opacity="0.4"/><polyline points="37.5,59.2 37.9,62 38.5,66.3" fill="none" stroke="#fff" stroke-width="0.9" stroke-opacity="0.6"/><line x1="19.8" y1="81.7" x2="28.8" y2="81.7" stroke="#9a7a70" stroke-width="0.35" stroke-opacity="0.6"/><use href="#bord"/><use href="#isl"/><polygon points="47.9,3.9 49.3,6.0 50.7,10.3 52.1,12.5 54.0,14.7 56.5,17.6 59.4,20.5 62.3,23.4 65.2,25.6 67.4,27.8 66.5,29.0 64.8,29.8 66.0,30.6 67.6,31.0 69.6,32.9 71.8,34.3 74.7,34.3 77.6,33.6 82.1,33.1 87.6,32.0 93.0,31.0 96.3,29.9 99.0,29.3 100.1,31.5 100.1,34.8 98.5,39.1 96.3,43.5 93.6,47.9 90.9,52.2 87.6,56.6 83.5,61.0 79.0,65.5 74.0,70.0 69.0,74.0 65.5,77.5 62.0,81.3 58.1,86.6 54.2,91.3 51.8,95.3 50.2,98.4 49.8,103.2 51.0,107.9 51.6,112.6 52.2,118.0 54.6,120.9 51.4,123.1 47.8,124.5 43.2,125.9 38.7,126.3 35.0,126.3 32.8,125.4 31.9,122.7 31.4,119.5 29.6,117.7 25.0,116.3 20.5,114.5 18.1,113.0 14.9,109.1 12.7,104.8 11.0,99.3 10.3,95.4 9.3,91.8 7.8,88.5 10.0,84.4 11.5,81.2 12.3,77.3 14.3,73.3 16.5,70.2 15.9,67.8 16.2,63.2 20.5,62.1 25.5,61.4 28.8,60.6 32.3,59.2 35.3,58.5 34.3,56.2 33.3,53.8 32.3,51.3 30.4,47.8 28.5,46.6 26.4,45.4 25.3,43.9 27.0,42.9 29.4,42.3 29.9,38.0 31.0,33.7 33.4,29.7 35.7,26.6 37.7,23.4 38.5,20.3 38.9,16.3 39.7,12.4 40.5,9.2 42.1,7.7" fill="none" stroke="#151515" stroke-width="0.6" stroke-opacity="0.9"/><rect x="0" y="0" width="107" height="127" fill="none" stroke="#8a8a8a" stroke-width="1.3"/><use href="#cbar"/></g><rect x="414.2" y="4.1" width="132.4" height="166.4" fill="none" stroke="#f3f3f3" stroke-width="0.8"/><g transform="translate(424.5,18.5)"><text x="53.5" y="-3" font-size="4.6" text-anchor="middle" fill="#111">April</text><g clip-path="url(#cl)"><g filter="url(#bl3)"><rect x="-5" y="-5" width="10" height="10" fill="#d6d6d6"/><rect x="5" y="-5" width="10" height="10" fill="#d6d6d6"/><rect x="15" y="-5" width="10" height="10" fill="#d6d6d6"/><rect x="25" y="-5" width="10" height="10" fill="#d6d6d6"/><rect x="35" y="-5" width="10" height="10" fill="#d6d6d6"/><rect x="45" y="-5" width="10" height="10" fill="#c8c8c8"/><rect x="55" y="-5" width="10" height="10" fill="#cccccc"/><rect x="65" y="-5" width="10" height="10" fill="#cfcfcf"/><rect x="75" y="-5" width="10" height="10" fill="#b2b2b2"/><rect x="85" y="-5" width="10" height="10" fill="#d6d6d6"/><rect x="95" y="-5" width="10" height="10" fill="#c8c8c8"/><rect x="-5" y="5" width="10" height="10" fill="#d6d6d6"/><rect x="5" y="5" width="10" height="10" fill="#d6d6d6"/><rect x="15" y="5" width="10" height="10" fill="#d6d6d6"/><rect x="25" y="5" width="10" height="10" fill="#d6d6d6"/><rect x="35" y="5" width="10" height="10" fill="#d6d6d6"/><rect x="45" y="5" width="10" height="10" fill="#c8c8c8"/><rect x="55" y="5" width="10" height="10" fill="#cfcfcf"/><rect x="65" y="5" width="10" height="10" fill="#d3d3d3"/><rect x="75" y="5" width="10" height="10" fill="#b2b2b2"/><rect x="85" y="5" width="10" height="10" fill="#d6d6d6"/><rect x="95" y="5" width="10" height="10" fill="#c8c8c8"/><rect x="-5" y="15" width="10" height="10" fill="#e1e1e1"/><rect x="5" y="15" width="10" height="10" fill="#e0e0e0"/><rect x="15" y="15" width="10" height="10" fill="#dfdfdf"/><rect x="25" y="15" width="10" height="10" fill="#dcdcdc"/><rect x="35" y="15" width="10" height="10" fill="#d6d6d6"/><rect x="45" y="15" width="10" height="10" fill="#999999"/><rect x="55" y="15" width="10" height="10" fill="#d6d6d6"/><rect x="65" y="15" width="10" height="10" fill="#d6d6d6"/><rect x="75" y="15" width="10" height="10" fill="#b2b2b2"/><rect x="85" y="15" width="10" height="10" fill="#d6d6d6"/><rect x="95" y="15" width="10" height="10" fill="#c8c8c8"/><rect x="-5" y="25" width="10" height="10" fill="#e2e2e2"/><rect x="5" y="25" width="10" height="10" fill="#e2e2e2"/><rect x="15" y="25" width="10" height="10" fill="#e2e2e2"/><rect x="25" y="25" width="10" height="10" fill="#e2e2e2"/><rect x="35" y="25" width="10" height="10" fill="#d6d6d6"/><rect x="45" y="25" width="10" height="10" fill="#c8c8c8"/><rect x="55" y="25" width="10" height="10" fill="#b2b2b2"/><rect x="65" y="25" width="10" height="10" fill="#d6d6d6"/><rect x="75" y="25" width="10" height="10" fill="#b2b2b2"/><rect x="85" y="25" width="10" height="10" fill="#d6d6d6"/><rect x="95" y="25" width="10" height="10" fill="#c8c8c8"/><rect x="-5" y="35" width="10" height="10" fill="#f5f5f5"/><rect x="5" y="35" width="10" height="10" fill="#f5f5f5"/><rect x="15" y="35" width="10" height="10" fill="#f5f5f5"/><rect x="25" y="35" width="10" height="10" fill="#f5f5f5"/><rect x="35" y="35" width="10" height="10" fill="#e2e2e2"/><rect x="45" y="35" width="10" height="10" fill="#c8c8c8"/><rect x="55" y="35" width="10" height="10" fill="#d6d6d6"/><rect x="65" y="35" width="10" height="10" fill="#d6d6d6"/><rect x="75" y="35" width="10" height="10" fill="#e2e2e2"/><rect x="85" y="35" width="10" height="10" fill="#e2e2e2"/><rect x="95" y="35" width="10" height="10" fill="#c8c8c8"/><rect x="-5" y="45" width="10" height="10" fill="#d6d6d6"/><rect x="5" y="45" width="10" height="10" fill="#d6d6d6"/><rect x="15" y="45" width="10" height="10" fill="#d6d6d6"/><rect x="25" y="45" width="10" height="10" fill="#d6d6d6"/><rect x="35" y="45" width="10" height="10" fill="#d6d6d6"/><rect x="45" y="45" width="10" height="10" fill="#b2b2b2"/><rect x="55" y="45" width="10" height="10" fill="#d6d6d6"/><rect x="65" y="45" width="10" height="10" fill="#e2e2e2"/><rect x="75" y="45" width="10" height="10" fill="#e2e2e2"/><rect x="85" y="45" width="10" height="10" fill="#d6d6d6"/><rect x="95" y="45" width="10" height="10" fill="#cfcfcf"/><rect x="-5" y="55" width="10" height="10" fill="#d6d6d6"/><rect x="5" y="55" width="10" height="10" fill="#d6d6d6"/><rect x="15" y="55" width="10" height="10" fill="#d6d6d6"/><rect x="25" y="55" width="10" height="10" fill="#d6d6d6"/><rect x="35" y="55" width="10" height="10" fill="#c8c8c8"/><rect x="45" y="55" width="10" height="10" fill="#d6d6d6"/><rect x="55" y="55" width="10" height="10" fill="#d6d6d6"/><rect x="65" y="55" width="10" height="10" fill="#e2e2e2"/><rect x="75" y="55" width="10" height="10" fill="#e2e2e2"/><rect x="85" y="55" width="10" height="10" fill="#d6d6d6"/><rect x="95" y="55" width="10" height="10" fill="#d6d6d6"/><rect x="-5" y="65" width="10" height="10" fill="#a5a5a5"/><rect x="5" y="65" width="10" height="10" fill="#b1b1b1"/><rect x="15" y="65" width="10" height="10" fill="#c8c8c8"/><rect x="25" y="65" width="10" height="10" fill="#d6d6d6"/><rect x="35" y="65" width="10" height="10" fill="#d6d6d6"/><rect x="45" y="65" width="10" height="10" fill="#b2b2b2"/><rect x="55" y="65" width="10" height="10" fill="#d6d6d6"/><rect x="65" y="65" width="10" height="10" fill="#e2e2e2"/><rect x="75" y="65" width="10" height="10" fill="#e2e2e2"/><rect x="85" y="65" width="10" height="10" fill="#d6d6d6"/><rect x="95" y="65" width="10" height="10" fill="#d6d6d6"/><rect x="-5" y="75" width="10" height="10" fill="#999999"/><rect x="5" y="75" width="10" height="10" fill="#999999"/><rect x="15" y="75" width="10" height="10" fill="#999999"/><rect x="25" y="75" width="10" height="10" fill="#d6d6d6"/><rect x="35" y="75" width="10" height="10" fill="#c8c8c8"/><rect x="45" y="75" width="10" height="10" fill="#c8c8c8"/><rect x="55" y="75" width="10" height="10" fill="#e2e2e2"/><rect x="65" y="75" width="10" height="10" fill="#e2e2e2"/><rect x="75" y="75" width="10" height="10" fill="#e2e2e2"/><rect x="85" y="75" width="10" height="10" fill="#d6d6d6"/><rect x="95" y="75" width="10" height="10" fill="#d6d6d6"/><rect x="-5" y="85" width="10" height="10" fill="#b2b2b2"/><rect x="5" y="85" width="10" height="10" fill="#b2b2b2"/><rect x="15" y="85" width="10" height="10" fill="#b2b2b2"/><rect x="25" y="85" width="10" height="10" fill="#d6d6d6"/><rect x="35" y="85" width="10" height="10" fill="#c8c8c8"/><rect x="45" y="85" width="10" height="10" fill="#b2b2b2"/><rect x="55" y="85" width="10" height="10" fill="#cacaca"/><rect x="65" y="85" width="10" height="10" fill="#d6d6d6"/><rect x="75" y="85" width="10" height="10" fill="#dcdcdc"/><rect x="85" y="85" width="10" height="10" fill="#d6d6d6"/><rect x="95" y="85" width="10" height="10" fill="#d6d6d6"/><rect x="-5" y="95" width="10" height="10" fill="#b2b2b2"/><rect x="5" y="95" width="10" height="10" fill="#b2b2b2"/><rect x="15" y="95" width="10" height="10" fill="#c8c8c8"/><rect x="25" y="95" width="10" height="10" fill="#d6d6d6"/><rect x="35" y="95" width="10" height="10" fill="#c8c8c8"/><rect x="45" y="95" width="10" height="10" fill="#b2b2b2"/><rect x="55" y="95" width="10" height="10" fill="#b2b2b2"/><rect x="65" y="95" width="10" height="10" fill="#b2b2b2"/><rect x="75" y="95" width="10" height="10" fill="#b2b2b2"/><rect x="85" y="95" width="10" height="10" fill="#c4c4c4"/><rect x="95" y="95" width="10" height="10" fill="#cdcdcd"/><rect x="-5" y="105" width="10" height="10" fill="#c8c8c8"/><rect x="5" y="105" width="10" height="10" fill="#c8c8c8"/><rect x="15" y="105" width="10" height="10" fill="#d6d6d6"/><rect x="25" y="105" width="10" height="10" fill="#c8c8c8"/><rect x="35" y="105" width="10" height="10" fill="#b2b2b2"/><rect x="45" y="105" width="10" height="10" fill="#c8c8c8"/><rect x="55" y="105" width="10" height="10" fill="#c8c8c8"/><rect x="65" y="105" width="10" height="10" fill="#c8c8c8"/><rect x="75" y="105" width="10" height="10" fill="#c8c8c8"/><rect x="85" y="105" width="10" height="10" fill="#c8c8c8"/><rect x="95" y="105" width="10" height="10" fill="#c8c8c8"/><rect x="-5" y="115" width="10" height="10" fill="#c8c8c8"/><rect x="5" y="115" width="10" height="10" fill="#c8c8c8"/><rect x="15" y="115" width="10" height="10" fill="#c8c8c8"/><rect x="25" y="115" width="10" height="10" fill="#d6d6d6"/><rect x="35" y="115" width="10" height="10" fill="#d6d6d6"/><rect x="45" y="115" width="10" height="10" fill="#c8c8c8"/><rect x="55" y="115" width="10" height="10" fill="#c8c8c8"/><rect x="65" y="115" width="10" height="10" fill="#c8c8c8"/><rect x="75" y="115" width="10" height="10" fill="#c8c8c8"/><rect x="85" y="115" width="10" height="10" fill="#c8c8c8"/><rect x="95" y="115" width="10" height="10" fill="#c8c8c8"/><rect x="-5" y="125" width="10" height="10" fill="#c8c8c8"/><rect x="5" y="125" width="10" height="10" fill="#c8c8c8"/><rect x="15" y="125" width="10" height="10" fill="#c8c8c8"/><rect x="25" y="125" width="10" height="10" fill="#d6d6d6"/><rect x="35" y="125" width="10" height="10" fill="#d6d6d6"/><rect x="45" y="125" width="10" height="10" fill="#c8c8c8"/><rect x="55" y="125" width="10" height="10" fill="#c8c8c8"/><rect x="65" y="125" width="10" height="10" fill="#c8c8c8"/><rect x="75" y="125" width="10" height="10" fill="#c8c8c8"/><rect x="85" y="125" width="10" height="10" fill="#c8c8c8"/><rect x="95" y="125" width="10" height="10" fill="#c8c8c8"/></g></g><polygon points="19.6,78.5 20.5,77.6 22.5,77.4 25.0,77.3 27.5,77.4 28.6,78.0 28.8,81.6 27.2,84.4 26.0,87.6 23.6,88.1 21.0,87.0 20.0,84.6 19.6,82.0" fill="#fff" stroke="#666" stroke-width="0.25" stroke-opacity="0.4"/><polyline points="37.5,59.2 37.9,62 38.5,66.3" fill="none" stroke="#fff" stroke-width="0.9" stroke-opacity="0.6"/><line x1="19.8" y1="81.7" x2="28.8" y2="81.7" stroke="#9a7a70" stroke-width="0.35" stroke-opacity="0.6"/><use href="#bord"/><use href="#isl"/><polygon points="47.9,3.9 49.3,6.0 50.7,10.3 52.1,12.5 54.0,14.7 56.5,17.6 59.4,20.5 62.3,23.4 65.2,25.6 67.4,27.8 66.5,29.0 64.8,29.8 66.0,30.6 67.6,31.0 69.6,32.9 71.8,34.3 74.7,34.3 77.6,33.6 82.1,33.1 87.6,32.0 93.0,31.0 96.3,29.9 99.0,29.3 100.1,31.5 100.1,34.8 98.5,39.1 96.3,43.5 93.6,47.9 90.9,52.2 87.6,56.6 83.5,61.0 79.0,65.5 74.0,70.0 69.0,74.0 65.5,77.5 62.0,81.3 58.1,86.6 54.2,91.3 51.8,95.3 50.2,98.4 49.8,103.2 51.0,107.9 51.6,112.6 52.2,118.0 54.6,120.9 51.4,123.1 47.8,124.5 43.2,125.9 38.7,126.3 35.0,126.3 32.8,125.4 31.9,122.7 31.4,119.5 29.6,117.7 25.0,116.3 20.5,114.5 18.1,113.0 14.9,109.1 12.7,104.8 11.0,99.3 10.3,95.4 9.3,91.8 7.8,88.5 10.0,84.4 11.5,81.2 12.3,77.3 14.3,73.3 16.5,70.2 15.9,67.8 16.2,63.2 20.5,62.1 25.5,61.4 28.8,60.6 32.3,59.2 35.3,58.5 34.3,56.2 33.3,53.8 32.3,51.3 30.4,47.8 28.5,46.6 26.4,45.4 25.3,43.9 27.0,42.9 29.4,42.3 29.9,38.0 31.0,33.7 33.4,29.7 35.7,26.6 37.7,23.4 38.5,20.3 38.9,16.3 39.7,12.4 40.5,9.2 42.1,7.7" fill="none" stroke="#151515" stroke-width="0.6" stroke-opacity="0.9"/><rect x="0" y="0" width="107" height="127" fill="none" stroke="#8a8a8a" stroke-width="1.3"/><use href="#cbar"/></g><rect x="5.3" y="173.4" width="132.4" height="163.4" fill="none" stroke="#f3f3f3" stroke-width="0.8"/><g transform="translate(19.5,184.7)"><text x="53.5" y="-3" font-size="4.6" text-anchor="middle" fill="#111">May</text><g clip-path="url(#cl)"><g filter="url(#bl4)"><rect x="-5" y="-5" width="10" height="10" fill="#d6d6d6"/><rect x="5" y="-5" width="10" height="10" fill="#d6d6d6"/><rect x="15" y="-5" width="10" height="10" fill="#d6d6d6"/><rect x="25" y="-5" width="10" height="10" fill="#d6d6d6"/><rect x="35" y="-5" width="10" height="10" fill="#d6d6d6"/><rect x="45" y="-5" width="10" height="10" fill="#e2e2e2"/><rect x="55" y="-5" width="10" height="10" fill="#e2e2e2"/><rect x="65" y="-5" width="10" height="10" fill="#e0e0e0"/><rect x="75" y="-5" width="10" height="10" fill="#e2e2e2"/><rect x="85" y="-5" width="10" height="10" fill="#e2e2e2"/><rect x="95" y="-5" width="10" height="10" fill="#e2e2e2"/><rect x="-5" y="5" width="10" height="10" fill="#d6d6d6"/><rect x="5" y="5" width="10" height="10" fill="#d6d6d6"/><rect x="15" y="5" width="10" height="10" fill="#d6d6d6"/><rect x="25" y="5" width="10" height="10" fill="#d6d6d6"/><rect x="35" y="5" width="10" height="10" fill="#d6d6d6"/><rect x="45" y="5" width="10" height="10" fill="#e2e2e2"/><rect x="55" y="5" width="10" height="10" fill="#e2e2e2"/><rect x="65" y="5" width="10" height="10" fill="#dfdfdf"/><rect x="75" y="5" width="10" height="10" fill="#e2e2e2"/><rect x="85" y="5" width="10" height="10" fill="#e2e2e2"/><rect x="95" y="5" width="10" height="10" fill="#e2e2e2"/><rect x="-5" y="15" width="10" height="10" fill="#e3e3e3"/><rect x="5" y="15" width="10" height="10" fill="#e4e4e4"/><rect x="15" y="15" width="10" height="10" fill="#e6e6e6"/><rect x="25" y="15" width="10" height="10" fill="#ebebeb"/><rect x="35" y="15" width="10" height="10" fill="#f5f5f5"/><rect x="45" y="15" width="10" height="10" fill="#ececec"/><rect x="55" y="15" width="10" height="10" fill="#e2e2e2"/><rect x="65" y="15" width="10" height="10" fill="#dcdcdc"/><rect x="75" y="15" width="10" height="10" fill="#e2e2e2"/><rect x="85" y="15" width="10" height="10" fill="#e2e2e2"/><rect x="95" y="15" width="10" height="10" fill="#e2e2e2"/><rect x="-5" y="25" width="10" height="10" fill="#e2e2e2"/><rect x="5" y="25" width="10" height="10" fill="#e2e2e2"/><rect x="15" y="25" width="10" height="10" fill="#e2e2e2"/><rect x="25" y="25" width="10" height="10" fill="#e2e2e2"/><rect x="35" y="25" width="10" height="10" fill="#f5f5f5"/><rect x="45" y="25" width="10" height="10" fill="#ececec"/><rect x="55" y="25" width="10" height="10" fill="#e2e2e2"/><rect x="65" y="25" width="10" height="10" fill="#d6d6d6"/><rect x="75" y="25" width="10" height="10" fill="#e2e2e2"/><rect x="85" y="25" width="10" height="10" fill="#e2e2e2"/><rect x="95" y="25" width="10" height="10" fill="#e2e2e2"/><rect x="-5" y="35" width="10" height="10" fill="#e2e2e2"/><rect x="5" y="35" width="10" height="10" fill="#e2e2e2"/><rect x="15" y="35" width="10" height="10" fill="#e2e2e2"/><rect x="25" y="35" width="10" height="10" fill="#e2e2e2"/><rect x="35" y="35" width="10" height="10" fill="#f5f5f5"/><rect x="45" y="35" width="10" height="10" fill="#ececec"/><rect x="55" y="35" width="10" height="10" fill="#e2e2e2"/><rect x="65" y="35" width="10" height="10" fill="#c8c8c8"/><rect x="75" y="35" width="10" height="10" fill="#d6d6d6"/><rect x="85" y="35" width="10" height="10" fill="#e2e2e2"/><rect x="95" y="35" width="10" height="10" fill="#d6d6d6"/><rect x="-5" y="45" width="10" height="10" fill="#c5c5c5"/><rect x="5" y="45" width="10" height="10" fill="#c3c3c3"/><rect x="15" y="45" width="10" height="10" fill="#bdbdbd"/><rect x="25" y="45" width="10" height="10" fill="#b2b2b2"/><rect x="35" y="45" width="10" height="10" fill="#c8c8c8"/><rect x="45" y="45" width="10" height="10" fill="#d6d6d6"/><rect x="55" y="45" width="10" height="10" fill="#b2b2b2"/><rect x="65" y="45" width="10" height="10" fill="#999999"/><rect x="75" y="45" width="10" height="10" fill="#b2b2b2"/><rect x="85" y="45" width="10" height="10" fill="#c8c8c8"/><rect x="95" y="45" width="10" height="10" fill="#cfcfcf"/><rect x="-5" y="55" width="10" height="10" fill="#c8c8c8"/><rect x="5" y="55" width="10" height="10" fill="#c8c8c8"/><rect x="15" y="55" width="10" height="10" fill="#c8c8c8"/><rect x="25" y="55" width="10" height="10" fill="#b2b2b2"/><rect x="35" y="55" width="10" height="10" fill="#b2b2b2"/><rect x="45" y="55" width="10" height="10" fill="#b2b2b2"/><rect x="55" y="55" width="10" height="10" fill="#b2b2b2"/><rect x="65" y="55" width="10" height="10" fill="#c8c8c8"/><rect x="75" y="55" width="10" height="10" fill="#c8c8c8"/><rect x="85" y="55" width="10" height="10" fill="#c8c8c8"/><rect x="95" y="55" width="10" height="10" fill="#c8c8c8"/><rect x="-5" y="65" width="10" height="10" fill="#acacac"/><rect x="5" y="65" width="10" height="10" fill="#a6a6a6"/><rect x="15" y="65" width="10" height="10" fill="#999999"/><rect x="25" y="65" width="10" height="10" fill="#b2b2b2"/><rect x="35" y="65" width="10" height="10" fill="#d6d6d6"/><rect x="45" y="65" width="10" height="10" fill="#b2b2b2"/><rect x="55" y="65" width="10" height="10" fill="#b2b2b2"/><rect x="65" y="65" width="10" height="10" fill="#c8c8c8"/><rect x="75" y="65" width="10" height="10" fill="#c8c8c8"/><rect x="85" y="65" width="10" height="10" fill="#c8c8c8"/><rect x="95" y="65" width="10" height="10" fill="#c8c8c8"/><rect x="-5" y="75" width="10" height="10" fill="#b2b2b2"/><rect x="5" y="75" width="10" height="10" fill="#b2b2b2"/><rect x="15" y="75" width="10" height="10" fill="#999999"/><rect x="25" y="75" width="10" height="10" fill="#c8c8c8"/><rect x="35" y="75" width="10" height="10" fill="#d6d6d6"/><rect x="45" y="75" width="10" height="10" fill="#e2e2e2"/><rect x="55" y="75" width="10" height="10" fill="#b2b2b2"/><rect x="65" y="75" width="10" height="10" fill="#bdbdbd"/><rect x="75" y="75" width="10" height="10" fill="#c3c3c3"/><rect x="85" y="75" width="10" height="10" fill="#c8c8c8"/><rect x="95" y="75" width="10" height="10" fill="#c8c8c8"/><rect x="-5" y="85" width="10" height="10" fill="#c8c8c8"/><rect x="5" y="85" width="10" height="10" fill="#c8c8c8"/><rect x="15" y="85" width="10" height="10" fill="#d6d6d6"/><rect x="25" y="85" width="10" height="10" fill="#c8c8c8"/><rect x="35" y="85" width="10" height="10" fill="#c8c8c8"/><rect x="45" y="85" width="10" height="10" fill="#999999"/><rect x="55" y="85" width="10" height="10" fill="#a6a6a6"/><rect x="65" y="85" width="10" height="10" fill="#b2b2b2"/><rect x="75" y="85" width="10" height="10" fill="#bababa"/><rect x="85" y="85" width="10" height="10" fill="#c8c8c8"/><rect x="95" y="85" width="10" height="10" fill="#c8c8c8"/><rect x="-5" y="95" width="10" height="10" fill="#999999"/><rect x="5" y="95" width="10" height="10" fill="#999999"/><rect x="15" y="95" width="10" height="10" fill="#b2b2b2"/><rect x="25" y="95" width="10" height="10" fill="#808080"/><rect x="35" y="95" width="10" height="10" fill="#636363"/><rect x="45" y="95" width="10" height="10" fill="#b2b2b2"/><rect x="55" y="95" width="10" height="10" fill="#b2b2b2"/><rect x="65" y="95" width="10" height="10" fill="#b2b2b2"/><rect x="75" y="95" width="10" height="10" fill="#b2b2b2"/><rect x="85" y="95" width="10" height="10" fill="#bdbdbd"/><rect x="95" y="95" width="10" height="10" fill="#c3c3c3"/><rect x="-5" y="105" width="10" height="10" fill="#999999"/><rect x="5" y="105" width="10" height="10" fill="#999999"/><rect x="15" y="105" width="10" height="10" fill="#999999"/><rect x="25" y="105" width="10" height="10" fill="#636363"/><rect x="35" y="105" width="10" height="10" fill="#636363"/><rect x="45" y="105" width="10" height="10" fill="#b2b2b2"/><rect x="55" y="105" width="10" height="10" fill="#b2b2b2"/><rect x="65" y="105" width="10" height="10" fill="#b2b2b2"/><rect x="75" y="105" width="10" height="10" fill="#b2b2b2"/><rect x="85" y="105" width="10" height="10" fill="#b2b2b2"/><rect x="95" y="105" width="10" height="10" fill="#b2b2b2"/><rect x="-5" y="115" width="10" height="10" fill="#999999"/><rect x="5" y="115" width="10" height="10" fill="#999999"/><rect x="15" y="115" width="10" height="10" fill="#999999"/><rect x="25" y="115" width="10" height="10" fill="#c8c8c8"/><rect x="35" y="115" width="10" height="10" fill="#c8c8c8"/><rect x="45" y="115" width="10" height="10" fill="#b2b2b2"/><rect x="55" y="115" width="10" height="10" fill="#b2b2b2"/><rect x="65" y="115" width="10" height="10" fill="#b2b2b2"/><rect x="75" y="115" width="10" height="10" fill="#b2b2b2"/><rect x="85" y="115" width="10" height="10" fill="#b2b2b2"/><rect x="95" y="115" width="10" height="10" fill="#b2b2b2"/><rect x="-5" y="125" width="10" height="10" fill="#999999"/><rect x="5" y="125" width="10" height="10" fill="#999999"/><rect x="15" y="125" width="10" height="10" fill="#999999"/><rect x="25" y="125" width="10" height="10" fill="#c8c8c8"/><rect x="35" y="125" width="10" height="10" fill="#c8c8c8"/><rect x="45" y="125" width="10" height="10" fill="#b2b2b2"/><rect x="55" y="125" width="10" height="10" fill="#b2b2b2"/><rect x="65" y="125" width="10" height="10" fill="#b2b2b2"/><rect x="75" y="125" width="10" height="10" fill="#b2b2b2"/><rect x="85" y="125" width="10" height="10" fill="#b2b2b2"/><rect x="95" y="125" width="10" height="10" fill="#b2b2b2"/></g></g><polygon points="19.6,78.5 20.5,77.6 22.5,77.4 25.0,77.3 27.5,77.4 28.6,78.0 28.8,81.6 27.2,84.4 26.0,87.6 23.6,88.1 21.0,87.0 20.0,84.6 19.6,82.0" fill="#fff" stroke="#666" stroke-width="0.25" stroke-opacity="0.4"/><polyline points="37.5,59.2 37.9,62 38.5,66.3" fill="none" stroke="#fff" stroke-width="0.9" stroke-opacity="0.6"/><line x1="19.8" y1="81.7" x2="28.8" y2="81.7" stroke="#9a7a70" stroke-width="0.35" stroke-opacity="0.6"/><use href="#bord"/><use href="#isl"/><polygon points="47.9,3.9 49.3,6.0 50.7,10.3 52.1,12.5 54.0,14.7 56.5,17.6 59.4,20.5 62.3,23.4 65.2,25.6 67.4,27.8 66.5,29.0 64.8,29.8 66.0,30.6 67.6,31.0 69.6,32.9 71.8,34.3 74.7,34.3 77.6,33.6 82.1,33.1 87.6,32.0 93.0,31.0 96.3,29.9 99.0,29.3 100.1,31.5 100.1,34.8 98.5,39.1 96.3,43.5 93.6,47.9 90.9,52.2 87.6,56.6 83.5,61.0 79.0,65.5 74.0,70.0 69.0,74.0 65.5,77.5 62.0,81.3 58.1,86.6 54.2,91.3 51.8,95.3 50.2,98.4 49.8,103.2 51.0,107.9 51.6,112.6 52.2,118.0 54.6,120.9 51.4,123.1 47.8,124.5 43.2,125.9 38.7,126.3 35.0,126.3 32.8,125.4 31.9,122.7 31.4,119.5 29.6,117.7 25.0,116.3 20.5,114.5 18.1,113.0 14.9,109.1 12.7,104.8 11.0,99.3 10.3,95.4 9.3,91.8 7.8,88.5 10.0,84.4 11.5,81.2 12.3,77.3 14.3,73.3 16.5,70.2 15.9,67.8 16.2,63.2 20.5,62.1 25.5,61.4 28.8,60.6 32.3,59.2 35.3,58.5 34.3,56.2 33.3,53.8 32.3,51.3 30.4,47.8 28.5,46.6 26.4,45.4 25.3,43.9 27.0,42.9 29.4,42.3 29.9,38.0 31.0,33.7 33.4,29.7 35.7,26.6 37.7,23.4 38.5,20.3 38.9,16.3 39.7,12.4 40.5,9.2 42.1,7.7" fill="none" stroke="#151515" stroke-width="0.6" stroke-opacity="0.9"/><rect x="0" y="0" width="107" height="127" fill="none" stroke="#8a8a8a" stroke-width="1.3"/><use href="#cbar"/></g><rect x="141.6" y="173.4" width="132.4" height="163.4" fill="none" stroke="#f3f3f3" stroke-width="0.8"/><g transform="translate(154.5,184.7)"><text x="53.5" y="-3" font-size="4.6" text-anchor="middle" fill="#111">June</text><g clip-path="url(#cl)"><g filter="url(#bl5)"><rect x="-5" y="-5" width="10" height="10" fill="#999999"/><rect x="5" y="-5" width="10" height="10" fill="#999999"/><rect x="15" y="-5" width="10" height="10" fill="#999999"/><rect x="25" y="-5" width="10" height="10" fill="#999999"/><rect x="35" y="-5" width="10" height="10" fill="#999999"/><rect x="45" y="-5" width="10" height="10" fill="#999999"/><rect x="55" y="-5" width="10" height="10" fill="#8c8c8c"/><rect x="65" y="-5" width="10" height="10" fill="#828282"/><rect x="75" y="-5" width="10" height="10" fill="#808080"/><rect x="85" y="-5" width="10" height="10" fill="#999999"/><rect x="95" y="-5" width="10" height="10" fill="#999999"/><rect x="-5" y="5" width="10" height="10" fill="#999999"/><rect x="5" y="5" width="10" height="10" fill="#999999"/><rect x="15" y="5" width="10" height="10" fill="#999999"/><rect x="25" y="5" width="10" height="10" fill="#999999"/><rect x="35" y="5" width="10" height="10" fill="#999999"/><rect x="45" y="5" width="10" height="10" fill="#999999"/><rect x="55" y="5" width="10" height="10" fill="#7e7e7e"/><rect x="65" y="5" width="10" height="10" fill="#787878"/><rect x="75" y="5" width="10" height="10" fill="#808080"/><rect x="85" y="5" width="10" height="10" fill="#999999"/><rect x="95" y="5" width="10" height="10" fill="#999999"/><rect x="-5" y="15" width="10" height="10" fill="#656565"/><rect x="5" y="15" width="10" height="10" fill="#676767"/><rect x="15" y="15" width="10" height="10" fill="#6a6a6a"/><rect x="25" y="15" width="10" height="10" fill="#717171"/><rect x="35" y="15" width="10" height="10" fill="#808080"/><rect x="45" y="15" width="10" height="10" fill="#c8c8c8"/><rect x="55" y="15" width="10" height="10" fill="#636363"/><rect x="65" y="15" width="10" height="10" fill="#717171"/><rect x="75" y="15" width="10" height="10" fill="#808080"/><rect x="85" y="15" width="10" height="10" fill="#999999"/><rect x="95" y="15" width="10" height="10" fill="#999999"/><rect x="-5" y="25" width="10" height="10" fill="#636363"/><rect x="5" y="25" width="10" height="10" fill="#636363"/><rect x="15" y="25" width="10" height="10" fill="#636363"/><rect x="25" y="25" width="10" height="10" fill="#636363"/><rect x="35" y="25" width="10" height="10" fill="#636363"/><rect x="45" y="25" width="10" height="10" fill="#d6d6d6"/><rect x="55" y="25" width="10" height="10" fill="#636363"/><rect x="65" y="25" width="10" height="10" fill="#808080"/><rect x="75" y="25" width="10" height="10" fill="#808080"/><rect x="85" y="25" width="10" height="10" fill="#999999"/><rect x="95" y="25" width="10" height="10" fill="#999999"/><rect x="-5" y="35" width="10" height="10" fill="#393939"/><rect x="5" y="35" width="10" height="10" fill="#393939"/><rect x="15" y="35" width="10" height="10" fill="#393939"/><rect x="25" y="35" width="10" height="10" fill="#393939"/><rect x="35" y="35" width="10" height="10" fill="#636363"/><rect x="45" y="35" width="10" height="10" fill="#d6d6d6"/><rect x="55" y="35" width="10" height="10" fill="#999999"/><rect x="65" y="35" width="10" height="10" fill="#808080"/><rect x="75" y="35" width="10" height="10" fill="#999999"/><rect x="85" y="35" width="10" height="10" fill="#b2b2b2"/><rect x="95" y="35" width="10" height="10" fill="#999999"/><rect x="-5" y="45" width="10" height="10" fill="#b8b8b8"/><rect x="5" y="45" width="10" height="10" fill="#a9a9a9"/><rect x="15" y="45" width="10" height="10" fill="#898989"/><rect x="25" y="45" width="10" height="10" fill="#4a4a4a"/><rect x="35" y="45" width="10" height="10" fill="#c8c8c8"/><rect x="45" y="45" width="10" height="10" fill="#b2b2b2"/><rect x="55" y="45" width="10" height="10" fill="#808080"/><rect x="65" y="45" width="10" height="10" fill="#999999"/><rect x="75" y="45" width="10" height="10" fill="#808080"/><rect x="85" y="45" width="10" height="10" fill="#999999"/><rect x="95" y="45" width="10" height="10" fill="#999999"/><rect x="-5" y="55" width="10" height="10" fill="#c8c8c8"/><rect x="5" y="55" width="10" height="10" fill="#c8c8c8"/><rect x="15" y="55" width="10" height="10" fill="#c8c8c8"/><rect x="25" y="55" width="10" height="10" fill="#b2b2b2"/><rect x="35" y="55" width="10" height="10" fill="#999999"/><rect x="45" y="55" width="10" height="10" fill="#393939"/><rect x="55" y="55" width="10" height="10" fill="#2d2d2d"/><rect x="65" y="55" width="10" height="10" fill="#393939"/><rect x="75" y="55" width="10" height="10" fill="#636363"/><rect x="85" y="55" width="10" height="10" fill="#808080"/><rect x="95" y="55" width="10" height="10" fill="#808080"/><rect x="-5" y="65" width="10" height="10" fill="#d9d9d9"/><rect x="5" y="65" width="10" height="10" fill="#dcdcdc"/><rect x="15" y="65" width="10" height="10" fill="#e2e2e2"/><rect x="25" y="65" width="10" height="10" fill="#d6d6d6"/><rect x="35" y="65" width="10" height="10" fill="#c8c8c8"/><rect x="45" y="65" width="10" height="10" fill="#636363"/><rect x="55" y="65" width="10" height="10" fill="#636363"/><rect x="65" y="65" width="10" height="10" fill="#999999"/><rect x="75" y="65" width="10" height="10" fill="#7e7e7e"/><rect x="85" y="65" width="10" height="10" fill="#808080"/><rect x="95" y="65" width="10" height="10" fill="#808080"/><rect x="-5" y="75" width="10" height="10" fill="#d6d6d6"/><rect x="5" y="75" width="10" height="10" fill="#d6d6d6"/><rect x="15" y="75" width="10" height="10" fill="#d6d6d6"/><rect x="25" y="75" width="10" height="10" fill="#d6d6d6"/><rect x="35" y="75" width="10" height="10" fill="#d6d6d6"/><rect x="45" y="75" width="10" height="10" fill="#808080"/><rect x="55" y="75" width="10" height="10" fill="#808080"/><rect x="65" y="75" width="10" height="10" fill="#8c8c8c"/><rect x="75" y="75" width="10" height="10" fill="#858585"/><rect x="85" y="75" width="10" height="10" fill="#808080"/><rect x="95" y="75" width="10" height="10" fill="#808080"/><rect x="-5" y="85" width="10" height="10" fill="#b2b2b2"/><rect x="5" y="85" width="10" height="10" fill="#b2b2b2"/><rect x="15" y="85" width="10" height="10" fill="#999999"/><rect x="25" y="85" width="10" height="10" fill="#999999"/><rect x="35" y="85" width="10" height="10" fill="#808080"/><rect x="45" y="85" width="10" height="10" fill="#808080"/><rect x="55" y="85" width="10" height="10" fill="#808080"/><rect x="65" y="85" width="10" height="10" fill="#868686"/><rect x="75" y="85" width="10" height="10" fill="#868686"/><rect x="85" y="85" width="10" height="10" fill="#808080"/><rect x="95" y="85" width="10" height="10" fill="#808080"/><rect x="-5" y="95" width="10" height="10" fill="#808080"/><rect x="5" y="95" width="10" height="10" fill="#808080"/><rect x="15" y="95" width="10" height="10" fill="#636363"/><rect x="25" y="95" width="10" height="10" fill="#636363"/><rect x="35" y="95" width="10" height="10" fill="#b2b2b2"/><rect x="45" y="95" width="10" height="10" fill="#808080"/><rect x="55" y="95" width="10" height="10" fill="#808080"/><rect x="65" y="95" width="10" height="10" fill="#808080"/><rect x="75" y="95" width="10" height="10" fill="#808080"/><rect x="85" y="95" width="10" height="10" fill="#808080"/><rect x="95" y="95" width="10" height="10" fill="#808080"/><rect x="-5" y="105" width="10" height="10" fill="#636363"/><rect x="5" y="105" width="10" height="10" fill="#636363"/><rect x="15" y="105" width="10" height="10" fill="#808080"/><rect x="25" y="105" width="10" height="10" fill="#999999"/><rect x="35" y="105" width="10" height="10" fill="#808080"/><rect x="45" y="105" width="10" height="10" fill="#808080"/><rect x="55" y="105" width="10" height="10" fill="#808080"/><rect x="65" y="105" width="10" height="10" fill="#808080"/><rect x="75" y="105" width="10" height="10" fill="#808080"/><rect x="85" y="105" width="10" height="10" fill="#808080"/><rect x="95" y="105" width="10" height="10" fill="#808080"/><rect x="-5" y="115" width="10" height="10" fill="#636363"/><rect x="5" y="115" width="10" height="10" fill="#636363"/><rect x="15" y="115" width="10" height="10" fill="#636363"/><rect x="25" y="115" width="10" height="10" fill="#4a4a4a"/><rect x="35" y="115" width="10" height="10" fill="#636363"/><rect x="45" y="115" width="10" height="10" fill="#808080"/><rect x="55" y="115" width="10" height="10" fill="#808080"/><rect x="65" y="115" width="10" height="10" fill="#808080"/><rect x="75" y="115" width="10" height="10" fill="#808080"/><rect x="85" y="115" width="10" height="10" fill="#808080"/><rect x="95" y="115" width="10" height="10" fill="#808080"/><rect x="-5" y="125" width="10" height="10" fill="#636363"/><rect x="5" y="125" width="10" height="10" fill="#636363"/><rect x="15" y="125" width="10" height="10" fill="#636363"/><rect x="25" y="125" width="10" height="10" fill="#4a4a4a"/><rect x="35" y="125" width="10" height="10" fill="#636363"/><rect x="45" y="125" width="10" height="10" fill="#808080"/><rect x="55" y="125" width="10" height="10" fill="#808080"/><rect x="65" y="125" width="10" height="10" fill="#808080"/><rect x="75" y="125" width="10" height="10" fill="#808080"/><rect x="85" y="125" width="10" height="10" fill="#808080"/><rect x="95" y="125" width="10" height="10" fill="#808080"/></g></g><polygon points="19.6,78.5 20.5,77.6 22.5,77.4 25.0,77.3 27.5,77.4 28.6,78.0 28.8,81.6 27.2,84.4 26.0,87.6 23.6,88.1 21.0,87.0 20.0,84.6 19.6,82.0" fill="#fff" stroke="#666" stroke-width="0.25" stroke-opacity="0.4"/><polyline points="37.5,59.2 37.9,62 38.5,66.3" fill="none" stroke="#fff" stroke-width="0.9" stroke-opacity="0.6"/><line x1="19.8" y1="81.7" x2="28.8" y2="81.7" stroke="#9a7a70" stroke-width="0.35" stroke-opacity="0.6"/><use href="#bord"/><use href="#isl"/><polygon points="47.9,3.9 49.3,6.0 50.7,10.3 52.1,12.5 54.0,14.7 56.5,17.6 59.4,20.5 62.3,23.4 65.2,25.6 67.4,27.8 66.5,29.0 64.8,29.8 66.0,30.6 67.6,31.0 69.6,32.9 71.8,34.3 74.7,34.3 77.6,33.6 82.1,33.1 87.6,32.0 93.0,31.0 96.3,29.9 99.0,29.3 100.1,31.5 100.1,34.8 98.5,39.1 96.3,43.5 93.6,47.9 90.9,52.2 87.6,56.6 83.5,61.0 79.0,65.5 74.0,70.0 69.0,74.0 65.5,77.5 62.0,81.3 58.1,86.6 54.2,91.3 51.8,95.3 50.2,98.4 49.8,103.2 51.0,107.9 51.6,112.6 52.2,118.0 54.6,120.9 51.4,123.1 47.8,124.5 43.2,125.9 38.7,126.3 35.0,126.3 32.8,125.4 31.9,122.7 31.4,119.5 29.6,117.7 25.0,116.3 20.5,114.5 18.1,113.0 14.9,109.1 12.7,104.8 11.0,99.3 10.3,95.4 9.3,91.8 7.8,88.5 10.0,84.4 11.5,81.2 12.3,77.3 14.3,73.3 16.5,70.2 15.9,67.8 16.2,63.2 20.5,62.1 25.5,61.4 28.8,60.6 32.3,59.2 35.3,58.5 34.3,56.2 33.3,53.8 32.3,51.3 30.4,47.8 28.5,46.6 26.4,45.4 25.3,43.9 27.0,42.9 29.4,42.3 29.9,38.0 31.0,33.7 33.4,29.7 35.7,26.6 37.7,23.4 38.5,20.3 38.9,16.3 39.7,12.4 40.5,9.2 42.1,7.7" fill="none" stroke="#151515" stroke-width="0.6" stroke-opacity="0.9"/><rect x="0" y="0" width="107" height="127" fill="none" stroke="#8a8a8a" stroke-width="1.3"/><use href="#cbar"/></g><rect x="277.9" y="173.4" width="132.4" height="163.4" fill="none" stroke="#f3f3f3" stroke-width="0.8"/><g transform="translate(289.5,184.7)"><text x="53.5" y="-3" font-size="4.6" text-anchor="middle" fill="#111">July</text><g clip-path="url(#cl)"><g filter="url(#bl6)"><rect x="-5" y="-5" width="10" height="10" fill="#d6d6d6"/><rect x="5" y="-5" width="10" height="10" fill="#d6d6d6"/><rect x="15" y="-5" width="10" height="10" fill="#d6d6d6"/><rect x="25" y="-5" width="10" height="10" fill="#d6d6d6"/><rect x="35" y="-5" width="10" height="10" fill="#d6d6d6"/><rect x="45" y="-5" width="10" height="10" fill="#d6d6d6"/><rect x="55" y="-5" width="10" height="10" fill="#d6d6d6"/><rect x="65" y="-5" width="10" height="10" fill="#cfcfcf"/><rect x="75" y="-5" width="10" height="10" fill="#808080"/><rect x="85" y="-5" width="10" height="10" fill="#808080"/><rect x="95" y="-5" width="10" height="10" fill="#808080"/><rect x="-5" y="5" width="10" height="10" fill="#d6d6d6"/><rect x="5" y="5" width="10" height="10" fill="#d6d6d6"/><rect x="15" y="5" width="10" height="10" fill="#d6d6d6"/><rect x="25" y="5" width="10" height="10" fill="#d6d6d6"/><rect x="35" y="5" width="10" height="10" fill="#d6d6d6"/><rect x="45" y="5" width="10" height="10" fill="#d6d6d6"/><rect x="55" y="5" width="10" height="10" fill="#d6d6d6"/><rect x="65" y="5" width="10" height="10" fill="#c7c7c7"/><rect x="75" y="5" width="10" height="10" fill="#808080"/><rect x="85" y="5" width="10" height="10" fill="#808080"/><rect x="95" y="5" width="10" height="10" fill="#808080"/><rect x="-5" y="15" width="10" height="10" fill="#b4b4b4"/><rect x="5" y="15" width="10" height="10" fill="#b5b5b5"/><rect x="15" y="15" width="10" height="10" fill="#b8b8b8"/><rect x="25" y="15" width="10" height="10" fill="#bdbdbd"/><rect x="35" y="15" width="10" height="10" fill="#c8c8c8"/><rect x="45" y="15" width="10" height="10" fill="#ececec"/><rect x="55" y="15" width="10" height="10" fill="#d6d6d6"/><rect x="65" y="15" width="10" height="10" fill="#b8b8b8"/><rect x="75" y="15" width="10" height="10" fill="#808080"/><rect x="85" y="15" width="10" height="10" fill="#808080"/><rect x="95" y="15" width="10" height="10" fill="#808080"/><rect x="-5" y="25" width="10" height="10" fill="#b2b2b2"/><rect x="5" y="25" width="10" height="10" fill="#b2b2b2"/><rect x="15" y="25" width="10" height="10" fill="#b2b2b2"/><rect x="25" y="25" width="10" height="10" fill="#b2b2b2"/><rect x="35" y="25" width="10" height="10" fill="#d6d6d6"/><rect x="45" y="25" width="10" height="10" fill="#f5f5f5"/><rect x="55" y="25" width="10" height="10" fill="#ececec"/><rect x="65" y="25" width="10" height="10" fill="#999999"/><rect x="75" y="25" width="10" height="10" fill="#808080"/><rect x="85" y="25" width="10" height="10" fill="#808080"/><rect x="95" y="25" width="10" height="10" fill="#808080"/><rect x="-5" y="35" width="10" height="10" fill="#808080"/><rect x="5" y="35" width="10" height="10" fill="#808080"/><rect x="15" y="35" width="10" height="10" fill="#808080"/><rect x="25" y="35" width="10" height="10" fill="#808080"/><rect x="35" y="35" width="10" height="10" fill="#d6d6d6"/><rect x="45" y="35" width="10" height="10" fill="#ececec"/><rect x="55" y="35" width="10" height="10" fill="#e2e2e2"/><rect x="65" y="35" width="10" height="10" fill="#b2b2b2"/><rect x="75" y="35" width="10" height="10" fill="#808080"/><rect x="85" y="35" width="10" height="10" fill="#808080"/><rect x="95" y="35" width="10" height="10" fill="#636363"/><rect x="-5" y="45" width="10" height="10" fill="#c5c5c5"/><rect x="5" y="45" width="10" height="10" fill="#c3c3c3"/><rect x="15" y="45" width="10" height="10" fill="#bdbdbd"/><rect x="25" y="45" width="10" height="10" fill="#b2b2b2"/><rect x="35" y="45" width="10" height="10" fill="#d6d6d6"/><rect x="45" y="45" width="10" height="10" fill="#b2b2b2"/><rect x="55" y="45" width="10" height="10" fill="#999999"/><rect x="65" y="45" width="10" height="10" fill="#808080"/><rect x="75" y="45" width="10" height="10" fill="#808080"/><rect x="85" y="45" width="10" height="10" fill="#636363"/><rect x="95" y="45" width="10" height="10" fill="#636363"/><rect x="-5" y="55" width="10" height="10" fill="#c8c8c8"/><rect x="5" y="55" width="10" height="10" fill="#c8c8c8"/><rect x="15" y="55" width="10" height="10" fill="#c8c8c8"/><rect x="25" y="55" width="10" height="10" fill="#b2b2b2"/><rect x="35" y="55" width="10" height="10" fill="#c8c8c8"/><rect x="45" y="55" width="10" height="10" fill="#b2b2b2"/><rect x="55" y="55" width="10" height="10" fill="#999999"/><rect x="65" y="55" width="10" height="10" fill="#808080"/><rect x="75" y="55" width="10" height="10" fill="#808080"/><rect x="85" y="55" width="10" height="10" fill="#636363"/><rect x="95" y="55" width="10" height="10" fill="#636363"/><rect x="-5" y="65" width="10" height="10" fill="#bbbbbb"/><rect x="5" y="65" width="10" height="10" fill="#c4c4c4"/><rect x="15" y="65" width="10" height="10" fill="#d6d6d6"/><rect x="25" y="65" width="10" height="10" fill="#d6d6d6"/><rect x="35" y="65" width="10" height="10" fill="#b2b2b2"/><rect x="45" y="65" width="10" height="10" fill="#b2b2b2"/><rect x="55" y="65" width="10" height="10" fill="#999999"/><rect x="65" y="65" width="10" height="10" fill="#636363"/><rect x="75" y="65" width="10" height="10" fill="#717171"/><rect x="85" y="65" width="10" height="10" fill="#636363"/><rect x="95" y="65" width="10" height="10" fill="#636363"/><rect x="-5" y="75" width="10" height="10" fill="#b2b2b2"/><rect x="5" y="75" width="10" height="10" fill="#b2b2b2"/><rect x="15" y="75" width="10" height="10" fill="#c8c8c8"/><rect x="25" y="75" width="10" height="10" fill="#c8c8c8"/><rect x="35" y="75" width="10" height="10" fill="#d6d6d6"/><rect x="45" y="75" width="10" height="10" fill="#b2b2b2"/><rect x="55" y="75" width="10" height="10" fill="#c8c8c8"/><rect x="65" y="75" width="10" height="10" fill="#969696"/><rect x="75" y="75" width="10" height="10" fill="#848484"/><rect x="85" y="75" width="10" height="10" fill="#636363"/><rect x="95" y="75" width="10" height="10" fill="#636363"/><rect x="-5" y="85" width="10" height="10" fill="#b2b2b2"/><rect x="5" y="85" width="10" height="10" fill="#b2b2b2"/><rect x="15" y="85" width="10" height="10" fill="#b2b2b2"/><rect x="25" y="85" width="10" height="10" fill="#d6d6d6"/><rect x="35" y="85" width="10" height="10" fill="#b2b2b2"/><rect x="45" y="85" width="10" height="10" fill="#b2b2b2"/><rect x="55" y="85" width="10" height="10" fill="#bdbdbd"/><rect x="65" y="85" width="10" height="10" fill="#aaaaaa"/><rect x="75" y="85" width="10" height="10" fill="#979797"/><rect x="85" y="85" width="10" height="10" fill="#636363"/><rect x="95" y="85" width="10" height="10" fill="#636363"/><rect x="-5" y="95" width="10" height="10" fill="#b2b2b2"/><rect x="5" y="95" width="10" height="10" fill="#b2b2b2"/><rect x="15" y="95" width="10" height="10" fill="#b2b2b2"/><rect x="25" y="95" width="10" height="10" fill="#d6d6d6"/><rect x="35" y="95" width="10" height="10" fill="#999999"/><rect x="45" y="95" width="10" height="10" fill="#b2b2b2"/><rect x="55" y="95" width="10" height="10" fill="#b2b2b2"/><rect x="65" y="95" width="10" height="10" fill="#b2b2b2"/><rect x="75" y="95" width="10" height="10" fill="#b2b2b2"/><rect x="85" y="95" width="10" height="10" fill="#8b8b8b"/><rect x="95" y="95" width="10" height="10" fill="#777777"/><rect x="-5" y="105" width="10" height="10" fill="#999999"/><rect x="5" y="105" width="10" height="10" fill="#999999"/><rect x="15" y="105" width="10" height="10" fill="#636363"/><rect x="25" y="105" width="10" height="10" fill="#c8c8c8"/><rect x="35" y="105" width="10" height="10" fill="#b2b2b2"/><rect x="45" y="105" width="10" height="10" fill="#b2b2b2"/><rect x="55" y="105" width="10" height="10" fill="#b2b2b2"/><rect x="65" y="105" width="10" height="10" fill="#b2b2b2"/><rect x="75" y="105" width="10" height="10" fill="#b2b2b2"/><rect x="85" y="105" width="10" height="10" fill="#b2b2b2"/><rect x="95" y="105" width="10" height="10" fill="#b2b2b2"/><rect x="-5" y="115" width="10" height="10" fill="#8c8c8c"/><rect x="5" y="115" width="10" height="10" fill="#7e7e7e"/><rect x="15" y="115" width="10" height="10" fill="#636363"/><rect x="25" y="115" width="10" height="10" fill="#b2b2b2"/><rect x="35" y="115" width="10" height="10" fill="#b2b2b2"/><rect x="45" y="115" width="10" height="10" fill="#c8c8c8"/><rect x="55" y="115" width="10" height="10" fill="#c8c8c8"/><rect x="65" y="115" width="10" height="10" fill="#c8c8c8"/><rect x="75" y="115" width="10" height="10" fill="#c8c8c8"/><rect x="85" y="115" width="10" height="10" fill="#c8c8c8"/><rect x="95" y="115" width="10" height="10" fill="#c8c8c8"/><rect x="-5" y="125" width="10" height="10" fill="#7e7e7e"/><rect x="5" y="125" width="10" height="10" fill="#717171"/><rect x="15" y="125" width="10" height="10" fill="#636363"/><rect x="25" y="125" width="10" height="10" fill="#b2b2b2"/><rect x="35" y="125" width="10" height="10" fill="#b2b2b2"/><rect x="45" y="125" width="10" height="10" fill="#c8c8c8"/><rect x="55" y="125" width="10" height="10" fill="#c8c8c8"/><rect x="65" y="125" width="10" height="10" fill="#c8c8c8"/><rect x="75" y="125" width="10" height="10" fill="#c8c8c8"/><rect x="85" y="125" width="10" height="10" fill="#c8c8c8"/><rect x="95" y="125" width="10" height="10" fill="#c8c8c8"/></g></g><polygon points="19.6,78.5 20.5,77.6 22.5,77.4 25.0,77.3 27.5,77.4 28.6,78.0 28.8,81.6 27.2,84.4 26.0,87.6 23.6,88.1 21.0,87.0 20.0,84.6 19.6,82.0" fill="#fff" stroke="#666" stroke-width="0.25" stroke-opacity="0.4"/><polyline points="37.5,59.2 37.9,62 38.5,66.3" fill="none" stroke="#fff" stroke-width="0.9" stroke-opacity="0.6"/><line x1="19.8" y1="81.7" x2="28.8" y2="81.7" stroke="#9a7a70" stroke-width="0.35" stroke-opacity="0.6"/><use href="#bord"/><use href="#isl"/><polygon points="47.9,3.9 49.3,6.0 50.7,10.3 52.1,12.5 54.0,14.7 56.5,17.6 59.4,20.5 62.3,23.4 65.2,25.6 67.4,27.8 66.5,29.0 64.8,29.8 66.0,30.6 67.6,31.0 69.6,32.9 71.8,34.3 74.7,34.3 77.6,33.6 82.1,33.1 87.6,32.0 93.0,31.0 96.3,29.9 99.0,29.3 100.1,31.5 100.1,34.8 98.5,39.1 96.3,43.5 93.6,47.9 90.9,52.2 87.6,56.6 83.5,61.0 79.0,65.5 74.0,70.0 69.0,74.0 65.5,77.5 62.0,81.3 58.1,86.6 54.2,91.3 51.8,95.3 50.2,98.4 49.8,103.2 51.0,107.9 51.6,112.6 52.2,118.0 54.6,120.9 51.4,123.1 47.8,124.5 43.2,125.9 38.7,126.3 35.0,126.3 32.8,125.4 31.9,122.7 31.4,119.5 29.6,117.7 25.0,116.3 20.5,114.5 18.1,113.0 14.9,109.1 12.7,104.8 11.0,99.3 10.3,95.4 9.3,91.8 7.8,88.5 10.0,84.4 11.5,81.2 12.3,77.3 14.3,73.3 16.5,70.2 15.9,67.8 16.2,63.2 20.5,62.1 25.5,61.4 28.8,60.6 32.3,59.2 35.3,58.5 34.3,56.2 33.3,53.8 32.3,51.3 30.4,47.8 28.5,46.6 26.4,45.4 25.3,43.9 27.0,42.9 29.4,42.3 29.9,38.0 31.0,33.7 33.4,29.7 35.7,26.6 37.7,23.4 38.5,20.3 38.9,16.3 39.7,12.4 40.5,9.2 42.1,7.7" fill="none" stroke="#151515" stroke-width="0.6" stroke-opacity="0.9"/><rect x="0" y="0" width="107" height="127" fill="none" stroke="#8a8a8a" stroke-width="1.3"/><use href="#cbar"/></g><rect x="414.2" y="173.4" width="132.4" height="163.4" fill="none" stroke="#f3f3f3" stroke-width="0.8"/><g transform="translate(424.5,184.7)"><text x="53.5" y="-3" font-size="4.6" text-anchor="middle" fill="#111">August</text><g clip-path="url(#cl)"><g filter="url(#bl7)"><rect x="-5" y="-5" width="10" height="10" fill="#999999"/><rect x="5" y="-5" width="10" height="10" fill="#999999"/><rect x="15" y="-5" width="10" height="10" fill="#999999"/><rect x="25" y="-5" width="10" height="10" fill="#999999"/><rect x="35" y="-5" width="10" height="10" fill="#999999"/><rect x="45" y="-5" width="10" height="10" fill="#b2b2b2"/><rect x="55" y="-5" width="10" height="10" fill="#b2b2b2"/><rect x="65" y="-5" width="10" height="10" fill="#b5b5b5"/><rect x="75" y="-5" width="10" height="10" fill="#999999"/><rect x="85" y="-5" width="10" height="10" fill="#999999"/><rect x="95" y="-5" width="10" height="10" fill="#808080"/><rect x="-5" y="5" width="10" height="10" fill="#999999"/><rect x="5" y="5" width="10" height="10" fill="#999999"/><rect x="15" y="5" width="10" height="10" fill="#999999"/><rect x="25" y="5" width="10" height="10" fill="#999999"/><rect x="35" y="5" width="10" height="10" fill="#999999"/><rect x="45" y="5" width="10" height="10" fill="#b2b2b2"/><rect x="55" y="5" width="10" height="10" fill="#b2b2b2"/><rect x="65" y="5" width="10" height="10" fill="#b8b8b8"/><rect x="75" y="5" width="10" height="10" fill="#999999"/><rect x="85" y="5" width="10" height="10" fill="#999999"/><rect x="95" y="5" width="10" height="10" fill="#808080"/><rect x="-5" y="15" width="10" height="10" fill="#aeaeae"/><rect x="5" y="15" width="10" height="10" fill="#a9a9a9"/><rect x="15" y="15" width="10" height="10" fill="#9f9f9f"/><rect x="25" y="15" width="10" height="10" fill="#8b8b8b"/><rect x="35" y="15" width="10" height="10" fill="#636363"/><rect x="45" y="15" width="10" height="10" fill="#999999"/><rect x="55" y="15" width="10" height="10" fill="#b2b2b2"/><rect x="65" y="15" width="10" height="10" fill="#bdbdbd"/><rect x="75" y="15" width="10" height="10" fill="#999999"/><rect x="85" y="15" width="10" height="10" fill="#999999"/><rect x="95" y="15" width="10" height="10" fill="#808080"/><rect x="-5" y="25" width="10" height="10" fill="#b2b2b2"/><rect x="5" y="25" width="10" height="10" fill="#b2b2b2"/><rect x="15" y="25" width="10" height="10" fill="#b2b2b2"/><rect x="25" y="25" width="10" height="10" fill="#b2b2b2"/><rect x="35" y="25" width="10" height="10" fill="#e2e2e2"/><rect x="45" y="25" width="10" height="10" fill="#ececec"/><rect x="55" y="25" width="10" height="10" fill="#b2b2b2"/><rect x="65" y="25" width="10" height="10" fill="#c8c8c8"/><rect x="75" y="25" width="10" height="10" fill="#999999"/><rect x="85" y="25" width="10" height="10" fill="#999999"/><rect x="95" y="25" width="10" height="10" fill="#808080"/><rect x="-5" y="35" width="10" height="10" fill="#999999"/><rect x="5" y="35" width="10" height="10" fill="#999999"/><rect x="15" y="35" width="10" height="10" fill="#999999"/><rect x="25" y="35" width="10" height="10" fill="#999999"/><rect x="35" y="35" width="10" height="10" fill="#d6d6d6"/><rect x="45" y="35" width="10" height="10" fill="#b2b2b2"/><rect x="55" y="35" width="10" height="10" fill="#999999"/><rect x="65" y="35" width="10" height="10" fill="#999999"/><rect x="75" y="35" width="10" height="10" fill="#808080"/><rect x="85" y="35" width="10" height="10" fill="#808080"/><rect x="95" y="35" width="10" height="10" fill="#808080"/><rect x="-5" y="45" width="10" height="10" fill="#c5c5c5"/><rect x="5" y="45" width="10" height="10" fill="#c3c3c3"/><rect x="15" y="45" width="10" height="10" fill="#bdbdbd"/><rect x="25" y="45" width="10" height="10" fill="#b2b2b2"/><rect x="35" y="45" width="10" height="10" fill="#c8c8c8"/><rect x="45" y="45" width="10" height="10" fill="#b2b2b2"/><rect x="55" y="45" width="10" height="10" fill="#999999"/><rect x="65" y="45" width="10" height="10" fill="#808080"/><rect x="75" y="45" width="10" height="10" fill="#636363"/><rect x="85" y="45" width="10" height="10" fill="#808080"/><rect x="95" y="45" width="10" height="10" fill="#808080"/><rect x="-5" y="55" width="10" height="10" fill="#c8c8c8"/><rect x="5" y="55" width="10" height="10" fill="#c8c8c8"/><rect x="15" y="55" width="10" height="10" fill="#c8c8c8"/><rect x="25" y="55" width="10" height="10" fill="#c8c8c8"/><rect x="35" y="55" width="10" height="10" fill="#c8c8c8"/><rect x="45" y="55" width="10" height="10" fill="#999999"/><rect x="55" y="55" width="10" height="10" fill="#808080"/><rect x="65" y="55" width="10" height="10" fill="#636363"/><rect x="75" y="55" width="10" height="10" fill="#808080"/><rect x="85" y="55" width="10" height="10" fill="#808080"/><rect x="95" y="55" width="10" height="10" fill="#808080"/><rect x="-5" y="65" width="10" height="10" fill="#cfcfcf"/><rect x="5" y="65" width="10" height="10" fill="#d5d5d5"/><rect x="15" y="65" width="10" height="10" fill="#e2e2e2"/><rect x="25" y="65" width="10" height="10" fill="#d6d6d6"/><rect x="35" y="65" width="10" height="10" fill="#b2b2b2"/><rect x="45" y="65" width="10" height="10" fill="#999999"/><rect x="55" y="65" width="10" height="10" fill="#808080"/><rect x="65" y="65" width="10" height="10" fill="#636363"/><rect x="75" y="65" width="10" height="10" fill="#717171"/><rect x="85" y="65" width="10" height="10" fill="#808080"/><rect x="95" y="65" width="10" height="10" fill="#808080"/><rect x="-5" y="75" width="10" height="10" fill="#c8c8c8"/><rect x="5" y="75" width="10" height="10" fill="#c8c8c8"/><rect x="15" y="75" width="10" height="10" fill="#d6d6d6"/><rect x="25" y="75" width="10" height="10" fill="#c8c8c8"/><rect x="35" y="75" width="10" height="10" fill="#c8c8c8"/><rect x="45" y="75" width="10" height="10" fill="#999999"/><rect x="55" y="75" width="10" height="10" fill="#b2b2b2"/><rect x="65" y="75" width="10" height="10" fill="#8b8b8b"/><rect x="75" y="75" width="10" height="10" fill="#7e7e7e"/><rect x="85" y="75" width="10" height="10" fill="#808080"/><rect x="95" y="75" width="10" height="10" fill="#808080"/><rect x="-5" y="85" width="10" height="10" fill="#b2b2b2"/><rect x="5" y="85" width="10" height="10" fill="#b2b2b2"/><rect x="15" y="85" width="10" height="10" fill="#d6d6d6"/><rect x="25" y="85" width="10" height="10" fill="#c8c8c8"/><rect x="35" y="85" width="10" height="10" fill="#636363"/><rect x="45" y="85" width="10" height="10" fill="#999999"/><rect x="55" y="85" width="10" height="10" fill="#a6a6a6"/><rect x="65" y="85" width="10" height="10" fill="#989898"/><rect x="75" y="85" width="10" height="10" fill="#8b8b8b"/><rect x="85" y="85" width="10" height="10" fill="#808080"/><rect x="95" y="85" width="10" height="10" fill="#808080"/><rect x="-5" y="95" width="10" height="10" fill="#b2b2b2"/><rect x="5" y="95" width="10" height="10" fill="#b2b2b2"/><rect x="15" y="95" width="10" height="10" fill="#999999"/><rect x="25" y="95" width="10" height="10" fill="#c8c8c8"/><rect x="35" y="95" width="10" height="10" fill="#b2b2b2"/><rect x="45" y="95" width="10" height="10" fill="#999999"/><rect x="55" y="95" width="10" height="10" fill="#999999"/><rect x="65" y="95" width="10" height="10" fill="#999999"/><rect x="75" y="95" width="10" height="10" fill="#999999"/><rect x="85" y="95" width="10" height="10" fill="#8c8c8c"/><rect x="95" y="95" width="10" height="10" fill="#868686"/><rect x="-5" y="105" width="10" height="10" fill="#999999"/><rect x="5" y="105" width="10" height="10" fill="#999999"/><rect x="15" y="105" width="10" height="10" fill="#b2b2b2"/><rect x="25" y="105" width="10" height="10" fill="#999999"/><rect x="35" y="105" width="10" height="10" fill="#b2b2b2"/><rect x="45" y="105" width="10" height="10" fill="#999999"/><rect x="55" y="105" width="10" height="10" fill="#999999"/><rect x="65" y="105" width="10" height="10" fill="#999999"/><rect x="75" y="105" width="10" height="10" fill="#999999"/><rect x="85" y="105" width="10" height="10" fill="#999999"/><rect x="95" y="105" width="10" height="10" fill="#999999"/><rect x="-5" y="115" width="10" height="10" fill="#999999"/><rect x="5" y="115" width="10" height="10" fill="#999999"/><rect x="15" y="115" width="10" height="10" fill="#999999"/><rect x="25" y="115" width="10" height="10" fill="#999999"/><rect x="35" y="115" width="10" height="10" fill="#808080"/><rect x="45" y="115" width="10" height="10" fill="#999999"/><rect x="55" y="115" width="10" height="10" fill="#999999"/><rect x="65" y="115" width="10" height="10" fill="#999999"/><rect x="75" y="115" width="10" height="10" fill="#999999"/><rect x="85" y="115" width="10" height="10" fill="#999999"/><rect x="95" y="115" width="10" height="10" fill="#999999"/><rect x="-5" y="125" width="10" height="10" fill="#999999"/><rect x="5" y="125" width="10" height="10" fill="#999999"/><rect x="15" y="125" width="10" height="10" fill="#999999"/><rect x="25" y="125" width="10" height="10" fill="#999999"/><rect x="35" y="125" width="10" height="10" fill="#808080"/><rect x="45" y="125" width="10" height="10" fill="#999999"/><rect x="55" y="125" width="10" height="10" fill="#999999"/><rect x="65" y="125" width="10" height="10" fill="#999999"/><rect x="75" y="125" width="10" height="10" fill="#999999"/><rect x="85" y="125" width="10" height="10" fill="#999999"/><rect x="95" y="125" width="10" height="10" fill="#999999"/></g></g><polygon points="19.6,78.5 20.5,77.6 22.5,77.4 25.0,77.3 27.5,77.4 28.6,78.0 28.8,81.6 27.2,84.4 26.0,87.6 23.6,88.1 21.0,87.0 20.0,84.6 19.6,82.0" fill="#fff" stroke="#666" stroke-width="0.25" stroke-opacity="0.4"/><polyline points="37.5,59.2 37.9,62 38.5,66.3" fill="none" stroke="#fff" stroke-width="0.9" stroke-opacity="0.6"/><line x1="19.8" y1="81.7" x2="28.8" y2="81.7" stroke="#9a7a70" stroke-width="0.35" stroke-opacity="0.6"/><use href="#bord"/><use href="#isl"/><polygon points="47.9,3.9 49.3,6.0 50.7,10.3 52.1,12.5 54.0,14.7 56.5,17.6 59.4,20.5 62.3,23.4 65.2,25.6 67.4,27.8 66.5,29.0 64.8,29.8 66.0,30.6 67.6,31.0 69.6,32.9 71.8,34.3 74.7,34.3 77.6,33.6 82.1,33.1 87.6,32.0 93.0,31.0 96.3,29.9 99.0,29.3 100.1,31.5 100.1,34.8 98.5,39.1 96.3,43.5 93.6,47.9 90.9,52.2 87.6,56.6 83.5,61.0 79.0,65.5 74.0,70.0 69.0,74.0 65.5,77.5 62.0,81.3 58.1,86.6 54.2,91.3 51.8,95.3 50.2,98.4 49.8,103.2 51.0,107.9 51.6,112.6 52.2,118.0 54.6,120.9 51.4,123.1 47.8,124.5 43.2,125.9 38.7,126.3 35.0,126.3 32.8,125.4 31.9,122.7 31.4,119.5 29.6,117.7 25.0,116.3 20.5,114.5 18.1,113.0 14.9,109.1 12.7,104.8 11.0,99.3 10.3,95.4 9.3,91.8 7.8,88.5 10.0,84.4 11.5,81.2 12.3,77.3 14.3,73.3 16.5,70.2 15.9,67.8 16.2,63.2 20.5,62.1 25.5,61.4 28.8,60.6 32.3,59.2 35.3,58.5 34.3,56.2 33.3,53.8 32.3,51.3 30.4,47.8 28.5,46.6 26.4,45.4 25.3,43.9 27.0,42.9 29.4,42.3 29.9,38.0 31.0,33.7 33.4,29.7 35.7,26.6 37.7,23.4 38.5,20.3 38.9,16.3 39.7,12.4 40.5,9.2 42.1,7.7" fill="none" stroke="#151515" stroke-width="0.6" stroke-opacity="0.9"/><rect x="0" y="0" width="107" height="127" fill="none" stroke="#8a8a8a" stroke-width="1.3"/><use href="#cbar"/></g><rect x="5.3" y="341.2" width="132.4" height="160.6" fill="none" stroke="#f3f3f3" stroke-width="0.8"/><g transform="translate(19.5,350.9)"><text x="53.5" y="-3" font-size="4.6" text-anchor="middle" fill="#111">September</text><g clip-path="url(#cl)"><g filter="url(#bl8)"><rect x="-5" y="-5" width="10" height="10" fill="#c8c8c8"/><rect x="5" y="-5" width="10" height="10" fill="#c8c8c8"/><rect x="15" y="-5" width="10" height="10" fill="#c8c8c8"/><rect x="25" y="-5" width="10" height="10" fill="#c8c8c8"/><rect x="35" y="-5" width="10" height="10" fill="#c8c8c8"/><rect x="45" y="-5" width="10" height="10" fill="#c8c8c8"/><rect x="55" y="-5" width="10" height="10" fill="#c8c8c8"/><rect x="65" y="-5" width="10" height="10" fill="#c5c5c5"/><rect x="75" y="-5" width="10" height="10" fill="#b2b2b2"/><rect x="85" y="-5" width="10" height="10" fill="#c8c8c8"/><rect x="95" y="-5" width="10" height="10" fill="#b2b2b2"/><rect x="-5" y="5" width="10" height="10" fill="#c8c8c8"/><rect x="5" y="5" width="10" height="10" fill="#c8c8c8"/><rect x="15" y="5" width="10" height="10" fill="#c8c8c8"/><rect x="25" y="5" width="10" height="10" fill="#c8c8c8"/><rect x="35" y="5" width="10" height="10" fill="#c8c8c8"/><rect x="45" y="5" width="10" height="10" fill="#c8c8c8"/><rect x="55" y="5" width="10" height="10" fill="#c8c8c8"/><rect x="65" y="5" width="10" height="10" fill="#c3c3c3"/><rect x="75" y="5" width="10" height="10" fill="#b2b2b2"/><rect x="85" y="5" width="10" height="10" fill="#c8c8c8"/><rect x="95" y="5" width="10" height="10" fill="#b2b2b2"/><rect x="-5" y="15" width="10" height="10" fill="#9b9b9b"/><rect x="5" y="15" width="10" height="10" fill="#9c9c9c"/><rect x="15" y="15" width="10" height="10" fill="#9f9f9f"/><rect x="25" y="15" width="10" height="10" fill="#a6a6a6"/><rect x="35" y="15" width="10" height="10" fill="#b2b2b2"/><rect x="45" y="15" width="10" height="10" fill="#d6d6d6"/><rect x="55" y="15" width="10" height="10" fill="#c8c8c8"/><rect x="65" y="15" width="10" height="10" fill="#bdbdbd"/><rect x="75" y="15" width="10" height="10" fill="#b2b2b2"/><rect x="85" y="15" width="10" height="10" fill="#c8c8c8"/><rect x="95" y="15" width="10" height="10" fill="#b2b2b2"/><rect x="-5" y="25" width="10" height="10" fill="#999999"/><rect x="5" y="25" width="10" height="10" fill="#999999"/><rect x="15" y="25" width="10" height="10" fill="#999999"/><rect x="25" y="25" width="10" height="10" fill="#999999"/><rect x="35" y="25" width="10" height="10" fill="#c8c8c8"/><rect x="45" y="25" width="10" height="10" fill="#d6d6d6"/><rect x="55" y="25" width="10" height="10" fill="#d6d6d6"/><rect x="65" y="25" width="10" height="10" fill="#b2b2b2"/><rect x="75" y="25" width="10" height="10" fill="#b2b2b2"/><rect x="85" y="25" width="10" height="10" fill="#c8c8c8"/><rect x="95" y="25" width="10" height="10" fill="#b2b2b2"/><rect x="-5" y="35" width="10" height="10" fill="#b2b2b2"/><rect x="5" y="35" width="10" height="10" fill="#b2b2b2"/><rect x="15" y="35" width="10" height="10" fill="#b2b2b2"/><rect x="25" y="35" width="10" height="10" fill="#b2b2b2"/><rect x="35" y="35" width="10" height="10" fill="#c8c8c8"/><rect x="45" y="35" width="10" height="10" fill="#d6d6d6"/><rect x="55" y="35" width="10" height="10" fill="#d6d6d6"/><rect x="65" y="35" width="10" height="10" fill="#c8c8c8"/><rect x="75" y="35" width="10" height="10" fill="#b2b2b2"/><rect x="85" y="35" width="10" height="10" fill="#4a4a4a"/><rect x="95" y="35" width="10" height="10" fill="#c8c8c8"/><rect x="-5" y="45" width="10" height="10" fill="#b2b2b2"/><rect x="5" y="45" width="10" height="10" fill="#b2b2b2"/><rect x="15" y="45" width="10" height="10" fill="#b2b2b2"/><rect x="25" y="45" width="10" height="10" fill="#b2b2b2"/><rect x="35" y="45" width="10" height="10" fill="#e2e2e2"/><rect x="45" y="45" width="10" height="10" fill="#c8c8c8"/><rect x="55" y="45" width="10" height="10" fill="#b2b2b2"/><rect x="65" y="45" width="10" height="10" fill="#636363"/><rect x="75" y="45" width="10" height="10" fill="#4a4a4a"/><rect x="85" y="45" width="10" height="10" fill="#808080"/><rect x="95" y="45" width="10" height="10" fill="#a4a4a4"/><rect x="-5" y="55" width="10" height="10" fill="#b2b2b2"/><rect x="5" y="55" width="10" height="10" fill="#b2b2b2"/><rect x="15" y="55" width="10" height="10" fill="#b2b2b2"/><rect x="25" y="55" width="10" height="10" fill="#d6d6d6"/><rect x="35" y="55" width="10" height="10" fill="#c8c8c8"/><rect x="45" y="55" width="10" height="10" fill="#808080"/><rect x="55" y="55" width="10" height="10" fill="#4a4a4a"/><rect x="65" y="55" width="10" height="10" fill="#636363"/><rect x="75" y="55" width="10" height="10" fill="#808080"/><rect x="85" y="55" width="10" height="10" fill="#808080"/><rect x="95" y="55" width="10" height="10" fill="#808080"/><rect x="-5" y="65" width="10" height="10" fill="#bcbcbc"/><rect x="5" y="65" width="10" height="10" fill="#b1b1b1"/><rect x="15" y="65" width="10" height="10" fill="#999999"/><rect x="25" y="65" width="10" height="10" fill="#b2b2b2"/><rect x="35" y="65" width="10" height="10" fill="#d6d6d6"/><rect x="45" y="65" width="10" height="10" fill="#808080"/><rect x="55" y="65" width="10" height="10" fill="#808080"/><rect x="65" y="65" width="10" height="10" fill="#636363"/><rect x="75" y="65" width="10" height="10" fill="#717171"/><rect x="85" y="65" width="10" height="10" fill="#808080"/><rect x="95" y="65" width="10" height="10" fill="#808080"/><rect x="-5" y="75" width="10" height="10" fill="#c8c8c8"/><rect x="5" y="75" width="10" height="10" fill="#c8c8c8"/><rect x="15" y="75" width="10" height="10" fill="#b2b2b2"/><rect x="25" y="75" width="10" height="10" fill="#c8c8c8"/><rect x="35" y="75" width="10" height="10" fill="#d6d6d6"/><rect x="45" y="75" width="10" height="10" fill="#999999"/><rect x="55" y="75" width="10" height="10" fill="#808080"/><rect x="65" y="75" width="10" height="10" fill="#717171"/><rect x="75" y="75" width="10" height="10" fill="#717171"/><rect x="85" y="75" width="10" height="10" fill="#808080"/><rect x="95" y="75" width="10" height="10" fill="#808080"/><rect x="-5" y="85" width="10" height="10" fill="#d6d6d6"/><rect x="5" y="85" width="10" height="10" fill="#d6d6d6"/><rect x="15" y="85" width="10" height="10" fill="#c8c8c8"/><rect x="25" y="85" width="10" height="10" fill="#c8c8c8"/><rect x="35" y="85" width="10" height="10" fill="#b2b2b2"/><rect x="45" y="85" width="10" height="10" fill="#999999"/><rect x="55" y="85" width="10" height="10" fill="#8c8c8c"/><rect x="65" y="85" width="10" height="10" fill="#7f7f7f"/><rect x="75" y="85" width="10" height="10" fill="#787878"/><rect x="85" y="85" width="10" height="10" fill="#808080"/><rect x="95" y="85" width="10" height="10" fill="#808080"/><rect x="-5" y="95" width="10" height="10" fill="#999999"/><rect x="5" y="95" width="10" height="10" fill="#999999"/><rect x="15" y="95" width="10" height="10" fill="#b2b2b2"/><rect x="25" y="95" width="10" height="10" fill="#c8c8c8"/><rect x="35" y="95" width="10" height="10" fill="#b2b2b2"/><rect x="45" y="95" width="10" height="10" fill="#b2b2b2"/><rect x="55" y="95" width="10" height="10" fill="#b2b2b2"/><rect x="65" y="95" width="10" height="10" fill="#b2b2b2"/><rect x="75" y="95" width="10" height="10" fill="#b2b2b2"/><rect x="85" y="95" width="10" height="10" fill="#999999"/><rect x="95" y="95" width="10" height="10" fill="#8c8c8c"/><rect x="-5" y="105" width="10" height="10" fill="#999999"/><rect x="5" y="105" width="10" height="10" fill="#999999"/><rect x="15" y="105" width="10" height="10" fill="#b2b2b2"/><rect x="25" y="105" width="10" height="10" fill="#c8c8c8"/><rect x="35" y="105" width="10" height="10" fill="#c8c8c8"/><rect x="45" y="105" width="10" height="10" fill="#b2b2b2"/><rect x="55" y="105" width="10" height="10" fill="#b2b2b2"/><rect x="65" y="105" width="10" height="10" fill="#b2b2b2"/><rect x="75" y="105" width="10" height="10" fill="#b2b2b2"/><rect x="85" y="105" width="10" height="10" fill="#b2b2b2"/><rect x="95" y="105" width="10" height="10" fill="#b2b2b2"/><rect x="-5" y="115" width="10" height="10" fill="#999999"/><rect x="5" y="115" width="10" height="10" fill="#999999"/><rect x="15" y="115" width="10" height="10" fill="#999999"/><rect x="25" y="115" width="10" height="10" fill="#b2b2b2"/><rect x="35" y="115" width="10" height="10" fill="#999999"/><rect x="45" y="115" width="10" height="10" fill="#999999"/><rect x="55" y="115" width="10" height="10" fill="#999999"/><rect x="65" y="115" width="10" height="10" fill="#999999"/><rect x="75" y="115" width="10" height="10" fill="#999999"/><rect x="85" y="115" width="10" height="10" fill="#999999"/><rect x="95" y="115" width="10" height="10" fill="#999999"/><rect x="-5" y="125" width="10" height="10" fill="#999999"/><rect x="5" y="125" width="10" height="10" fill="#999999"/><rect x="15" y="125" width="10" height="10" fill="#999999"/><rect x="25" y="125" width="10" height="10" fill="#b2b2b2"/><rect x="35" y="125" width="10" height="10" fill="#999999"/><rect x="45" y="125" width="10" height="10" fill="#999999"/><rect x="55" y="125" width="10" height="10" fill="#999999"/><rect x="65" y="125" width="10" height="10" fill="#999999"/><rect x="75" y="125" width="10" height="10" fill="#999999"/><rect x="85" y="125" width="10" height="10" fill="#999999"/><rect x="95" y="125" width="10" height="10" fill="#999999"/></g></g><polygon points="19.6,78.5 20.5,77.6 22.5,77.4 25.0,77.3 27.5,77.4 28.6,78.0 28.8,81.6 27.2,84.4 26.0,87.6 23.6,88.1 21.0,87.0 20.0,84.6 19.6,82.0" fill="#fff" stroke="#666" stroke-width="0.25" stroke-opacity="0.4"/><polyline points="37.5,59.2 37.9,62 38.5,66.3" fill="none" stroke="#fff" stroke-width="0.9" stroke-opacity="0.6"/><line x1="19.8" y1="81.7" x2="28.8" y2="81.7" stroke="#9a7a70" stroke-width="0.35" stroke-opacity="0.6"/><use href="#bord"/><use href="#isl"/><polygon points="47.9,3.9 49.3,6.0 50.7,10.3 52.1,12.5 54.0,14.7 56.5,17.6 59.4,20.5 62.3,23.4 65.2,25.6 67.4,27.8 66.5,29.0 64.8,29.8 66.0,30.6 67.6,31.0 69.6,32.9 71.8,34.3 74.7,34.3 77.6,33.6 82.1,33.1 87.6,32.0 93.0,31.0 96.3,29.9 99.0,29.3 100.1,31.5 100.1,34.8 98.5,39.1 96.3,43.5 93.6,47.9 90.9,52.2 87.6,56.6 83.5,61.0 79.0,65.5 74.0,70.0 69.0,74.0 65.5,77.5 62.0,81.3 58.1,86.6 54.2,91.3 51.8,95.3 50.2,98.4 49.8,103.2 51.0,107.9 51.6,112.6 52.2,118.0 54.6,120.9 51.4,123.1 47.8,124.5 43.2,125.9 38.7,126.3 35.0,126.3 32.8,125.4 31.9,122.7 31.4,119.5 29.6,117.7 25.0,116.3 20.5,114.5 18.1,113.0 14.9,109.1 12.7,104.8 11.0,99.3 10.3,95.4 9.3,91.8 7.8,88.5 10.0,84.4 11.5,81.2 12.3,77.3 14.3,73.3 16.5,70.2 15.9,67.8 16.2,63.2 20.5,62.1 25.5,61.4 28.8,60.6 32.3,59.2 35.3,58.5 34.3,56.2 33.3,53.8 32.3,51.3 30.4,47.8 28.5,46.6 26.4,45.4 25.3,43.9 27.0,42.9 29.4,42.3 29.9,38.0 31.0,33.7 33.4,29.7 35.7,26.6 37.7,23.4 38.5,20.3 38.9,16.3 39.7,12.4 40.5,9.2 42.1,7.7" fill="none" stroke="#151515" stroke-width="0.6" stroke-opacity="0.9"/><rect x="0" y="0" width="107" height="127" fill="none" stroke="#8a8a8a" stroke-width="1.3"/><use href="#cbar"/></g><rect x="141.6" y="341.2" width="132.4" height="160.6" fill="none" stroke="#f3f3f3" stroke-width="0.8"/><g transform="translate(154.5,350.9)"><text x="53.5" y="-3" font-size="4.6" text-anchor="middle" fill="#111">October</text><g clip-path="url(#cl)"><g filter="url(#bl9)"><rect x="-5" y="-5" width="10" height="10" fill="#d6d6d6"/><rect x="5" y="-5" width="10" height="10" fill="#d6d6d6"/><rect x="15" y="-5" width="10" height="10" fill="#d6d6d6"/><rect x="25" y="-5" width="10" height="10" fill="#d6d6d6"/><rect x="35" y="-5" width="10" height="10" fill="#d6d6d6"/><rect x="45" y="-5" width="10" height="10" fill="#c8c8c8"/><rect x="55" y="-5" width="10" height="10" fill="#c3c3c3"/><rect x="65" y="-5" width="10" height="10" fill="#c2c2c2"/><rect x="75" y="-5" width="10" height="10" fill="#d6d6d6"/><rect x="85" y="-5" width="10" height="10" fill="#c8c8c8"/><rect x="95" y="-5" width="10" height="10" fill="#c8c8c8"/><rect x="-5" y="5" width="10" height="10" fill="#d6d6d6"/><rect x="5" y="5" width="10" height="10" fill="#d6d6d6"/><rect x="15" y="5" width="10" height="10" fill="#d6d6d6"/><rect x="25" y="5" width="10" height="10" fill="#d6d6d6"/><rect x="35" y="5" width="10" height="10" fill="#d6d6d6"/><rect x="45" y="5" width="10" height="10" fill="#c8c8c8"/><rect x="55" y="5" width="10" height="10" fill="#bdbdbd"/><rect x="65" y="5" width="10" height="10" fill="#c1c1c1"/><rect x="75" y="5" width="10" height="10" fill="#d6d6d6"/><rect x="85" y="5" width="10" height="10" fill="#c8c8c8"/><rect x="95" y="5" width="10" height="10" fill="#c8c8c8"/><rect x="-5" y="15" width="10" height="10" fill="#d7d7d7"/><rect x="5" y="15" width="10" height="10" fill="#d8d8d8"/><rect x="15" y="15" width="10" height="10" fill="#d9d9d9"/><rect x="25" y="15" width="10" height="10" fill="#dcdcdc"/><rect x="35" y="15" width="10" height="10" fill="#e2e2e2"/><rect x="45" y="15" width="10" height="10" fill="#c8c8c8"/><rect x="55" y="15" width="10" height="10" fill="#b2b2b2"/><rect x="65" y="15" width="10" height="10" fill="#c4c4c4"/><rect x="75" y="15" width="10" height="10" fill="#d6d6d6"/><rect x="85" y="15" width="10" height="10" fill="#c8c8c8"/><rect x="95" y="15" width="10" height="10" fill="#c8c8c8"/><rect x="-5" y="25" width="10" height="10" fill="#d6d6d6"/><rect x="5" y="25" width="10" height="10" fill="#d6d6d6"/><rect x="15" y="25" width="10" height="10" fill="#d6d6d6"/><rect x="25" y="25" width="10" height="10" fill="#d6d6d6"/><rect x="35" y="25" width="10" height="10" fill="#e2e2e2"/><rect x="45" y="25" width="10" height="10" fill="#d6d6d6"/><rect x="55" y="25" width="10" height="10" fill="#d6d6d6"/><rect x="65" y="25" width="10" height="10" fill="#d6d6d6"/><rect x="75" y="25" width="10" height="10" fill="#d6d6d6"/><rect x="85" y="25" width="10" height="10" fill="#c8c8c8"/><rect x="95" y="25" width="10" height="10" fill="#c8c8c8"/><rect x="-5" y="35" width="10" height="10" fill="#d6d6d6"/><rect x="5" y="35" width="10" height="10" fill="#d6d6d6"/><rect x="15" y="35" width="10" height="10" fill="#d6d6d6"/><rect x="25" y="35" width="10" height="10" fill="#d6d6d6"/><rect x="35" y="35" width="10" height="10" fill="#e2e2e2"/><rect x="45" y="35" width="10" height="10" fill="#e2e2e2"/><rect x="55" y="35" width="10" height="10" fill="#e2e2e2"/><rect x="65" y="35" width="10" height="10" fill="#d6d6d6"/><rect x="75" y="35" width="10" height="10" fill="#d6d6d6"/><rect x="85" y="35" width="10" height="10" fill="#c8c8c8"/><rect x="95" y="35" width="10" height="10" fill="#c8c8c8"/><rect x="-5" y="45" width="10" height="10" fill="#d6d6d6"/><rect x="5" y="45" width="10" height="10" fill="#d6d6d6"/><rect x="15" y="45" width="10" height="10" fill="#d6d6d6"/><rect x="25" y="45" width="10" height="10" fill="#d6d6d6"/><rect x="35" y="45" width="10" height="10" fill="#e2e2e2"/><rect x="45" y="45" width="10" height="10" fill="#c8c8c8"/><rect x="55" y="45" width="10" height="10" fill="#e2e2e2"/><rect x="65" y="45" width="10" height="10" fill="#d6d6d6"/><rect x="75" y="45" width="10" height="10" fill="#c8c8c8"/><rect x="85" y="45" width="10" height="10" fill="#b2b2b2"/><rect x="95" y="45" width="10" height="10" fill="#bdbdbd"/><rect x="-5" y="55" width="10" height="10" fill="#d6d6d6"/><rect x="5" y="55" width="10" height="10" fill="#d6d6d6"/><rect x="15" y="55" width="10" height="10" fill="#d6d6d6"/><rect x="25" y="55" width="10" height="10" fill="#c8c8c8"/><rect x="35" y="55" width="10" height="10" fill="#c8c8c8"/><rect x="45" y="55" width="10" height="10" fill="#d6d6d6"/><rect x="55" y="55" width="10" height="10" fill="#d6d6d6"/><rect x="65" y="55" width="10" height="10" fill="#e2e2e2"/><rect x="75" y="55" width="10" height="10" fill="#d6d6d6"/><rect x="85" y="55" width="10" height="10" fill="#c8c8c8"/><rect x="95" y="55" width="10" height="10" fill="#c8c8c8"/><rect x="-5" y="65" width="10" height="10" fill="#929292"/><rect x="5" y="65" width="10" height="10" fill="#a4a4a4"/><rect x="15" y="65" width="10" height="10" fill="#c8c8c8"/><rect x="25" y="65" width="10" height="10" fill="#c8c8c8"/><rect x="35" y="65" width="10" height="10" fill="#d6d6d6"/><rect x="45" y="65" width="10" height="10" fill="#e2e2e2"/><rect x="55" y="65" width="10" height="10" fill="#e2e2e2"/><rect x="65" y="65" width="10" height="10" fill="#d6d6d6"/><rect x="75" y="65" width="10" height="10" fill="#d6d6d6"/><rect x="85" y="65" width="10" height="10" fill="#c8c8c8"/><rect x="95" y="65" width="10" height="10" fill="#c8c8c8"/><rect x="-5" y="75" width="10" height="10" fill="#808080"/><rect x="5" y="75" width="10" height="10" fill="#808080"/><rect x="15" y="75" width="10" height="10" fill="#c8c8c8"/><rect x="25" y="75" width="10" height="10" fill="#c8c8c8"/><rect x="35" y="75" width="10" height="10" fill="#e2e2e2"/><rect x="45" y="75" width="10" height="10" fill="#e2e2e2"/><rect x="55" y="75" width="10" height="10" fill="#d6d6d6"/><rect x="65" y="75" width="10" height="10" fill="#d6d6d6"/><rect x="75" y="75" width="10" height="10" fill="#d6d6d6"/><rect x="85" y="75" width="10" height="10" fill="#c8c8c8"/><rect x="95" y="75" width="10" height="10" fill="#c8c8c8"/><rect x="-5" y="85" width="10" height="10" fill="#b2b2b2"/><rect x="5" y="85" width="10" height="10" fill="#b2b2b2"/><rect x="15" y="85" width="10" height="10" fill="#c8c8c8"/><rect x="25" y="85" width="10" height="10" fill="#c8c8c8"/><rect x="35" y="85" width="10" height="10" fill="#d6d6d6"/><rect x="45" y="85" width="10" height="10" fill="#d6d6d6"/><rect x="55" y="85" width="10" height="10" fill="#d6d6d6"/><rect x="65" y="85" width="10" height="10" fill="#d6d6d6"/><rect x="75" y="85" width="10" height="10" fill="#d6d6d6"/><rect x="85" y="85" width="10" height="10" fill="#c8c8c8"/><rect x="95" y="85" width="10" height="10" fill="#c8c8c8"/><rect x="-5" y="95" width="10" height="10" fill="#c8c8c8"/><rect x="5" y="95" width="10" height="10" fill="#c8c8c8"/><rect x="15" y="95" width="10" height="10" fill="#d6d6d6"/><rect x="25" y="95" width="10" height="10" fill="#999999"/><rect x="35" y="95" width="10" height="10" fill="#c8c8c8"/><rect x="45" y="95" width="10" height="10" fill="#d6d6d6"/><rect x="55" y="95" width="10" height="10" fill="#d6d6d6"/><rect x="65" y="95" width="10" height="10" fill="#d6d6d6"/><rect x="75" y="95" width="10" height="10" fill="#d6d6d6"/><rect x="85" y="95" width="10" height="10" fill="#cfcfcf"/><rect x="95" y="95" width="10" height="10" fill="#cccccc"/><rect x="-5" y="105" width="10" height="10" fill="#c8c8c8"/><rect x="5" y="105" width="10" height="10" fill="#c8c8c8"/><rect x="15" y="105" width="10" height="10" fill="#c8c8c8"/><rect x="25" y="105" width="10" height="10" fill="#b2b2b2"/><rect x="35" y="105" width="10" height="10" fill="#d6d6d6"/><rect x="45" y="105" width="10" height="10" fill="#d6d6d6"/><rect x="55" y="105" width="10" height="10" fill="#d6d6d6"/><rect x="65" y="105" width="10" height="10" fill="#d6d6d6"/><rect x="75" y="105" width="10" height="10" fill="#d6d6d6"/><rect x="85" y="105" width="10" height="10" fill="#d6d6d6"/><rect x="95" y="105" width="10" height="10" fill="#d6d6d6"/><rect x="-5" y="115" width="10" height="10" fill="#c8c8c8"/><rect x="5" y="115" width="10" height="10" fill="#c8c8c8"/><rect x="15" y="115" width="10" height="10" fill="#c8c8c8"/><rect x="25" y="115" width="10" height="10" fill="#b2b2b2"/><rect x="35" y="115" width="10" height="10" fill="#c8c8c8"/><rect x="45" y="115" width="10" height="10" fill="#d6d6d6"/><rect x="55" y="115" width="10" height="10" fill="#d6d6d6"/><rect x="65" y="115" width="10" height="10" fill="#d6d6d6"/><rect x="75" y="115" width="10" height="10" fill="#d6d6d6"/><rect x="85" y="115" width="10" height="10" fill="#d6d6d6"/><rect x="95" y="115" width="10" height="10" fill="#d6d6d6"/><rect x="-5" y="125" width="10" height="10" fill="#c8c8c8"/><rect x="5" y="125" width="10" height="10" fill="#c8c8c8"/><rect x="15" y="125" width="10" height="10" fill="#c8c8c8"/><rect x="25" y="125" width="10" height="10" fill="#b2b2b2"/><rect x="35" y="125" width="10" height="10" fill="#c8c8c8"/><rect x="45" y="125" width="10" height="10" fill="#d6d6d6"/><rect x="55" y="125" width="10" height="10" fill="#d6d6d6"/><rect x="65" y="125" width="10" height="10" fill="#d6d6d6"/><rect x="75" y="125" width="10" height="10" fill="#d6d6d6"/><rect x="85" y="125" width="10" height="10" fill="#d6d6d6"/><rect x="95" y="125" width="10" height="10" fill="#d6d6d6"/></g></g><polygon points="19.6,78.5 20.5,77.6 22.5,77.4 25.0,77.3 27.5,77.4 28.6,78.0 28.8,81.6 27.2,84.4 26.0,87.6 23.6,88.1 21.0,87.0 20.0,84.6 19.6,82.0" fill="#fff" stroke="#666" stroke-width="0.25" stroke-opacity="0.4"/><polyline points="37.5,59.2 37.9,62 38.5,66.3" fill="none" stroke="#fff" stroke-width="0.9" stroke-opacity="0.6"/><line x1="19.8" y1="81.7" x2="28.8" y2="81.7" stroke="#9a7a70" stroke-width="0.35" stroke-opacity="0.6"/><use href="#bord"/><use href="#isl"/><polygon points="47.9,3.9 49.3,6.0 50.7,10.3 52.1,12.5 54.0,14.7 56.5,17.6 59.4,20.5 62.3,23.4 65.2,25.6 67.4,27.8 66.5,29.0 64.8,29.8 66.0,30.6 67.6,31.0 69.6,32.9 71.8,34.3 74.7,34.3 77.6,33.6 82.1,33.1 87.6,32.0 93.0,31.0 96.3,29.9 99.0,29.3 100.1,31.5 100.1,34.8 98.5,39.1 96.3,43.5 93.6,47.9 90.9,52.2 87.6,56.6 83.5,61.0 79.0,65.5 74.0,70.0 69.0,74.0 65.5,77.5 62.0,81.3 58.1,86.6 54.2,91.3 51.8,95.3 50.2,98.4 49.8,103.2 51.0,107.9 51.6,112.6 52.2,118.0 54.6,120.9 51.4,123.1 47.8,124.5 43.2,125.9 38.7,126.3 35.0,126.3 32.8,125.4 31.9,122.7 31.4,119.5 29.6,117.7 25.0,116.3 20.5,114.5 18.1,113.0 14.9,109.1 12.7,104.8 11.0,99.3 10.3,95.4 9.3,91.8 7.8,88.5 10.0,84.4 11.5,81.2 12.3,77.3 14.3,73.3 16.5,70.2 15.9,67.8 16.2,63.2 20.5,62.1 25.5,61.4 28.8,60.6 32.3,59.2 35.3,58.5 34.3,56.2 33.3,53.8 32.3,51.3 30.4,47.8 28.5,46.6 26.4,45.4 25.3,43.9 27.0,42.9 29.4,42.3 29.9,38.0 31.0,33.7 33.4,29.7 35.7,26.6 37.7,23.4 38.5,20.3 38.9,16.3 39.7,12.4 40.5,9.2 42.1,7.7" fill="none" stroke="#151515" stroke-width="0.6" stroke-opacity="0.9"/><rect x="0" y="0" width="107" height="127" fill="none" stroke="#8a8a8a" stroke-width="1.3"/><use href="#cbar"/></g><rect x="277.9" y="341.2" width="132.4" height="160.6" fill="none" stroke="#f3f3f3" stroke-width="0.8"/><g transform="translate(289.5,350.9)"><text x="53.5" y="-3" font-size="4.6" text-anchor="middle" fill="#111">November</text><g clip-path="url(#cl)"><g filter="url(#bl10)"><rect x="-5" y="-5" width="10" height="10" fill="#c8c8c8"/><rect x="5" y="-5" width="10" height="10" fill="#c8c8c8"/><rect x="15" y="-5" width="10" height="10" fill="#c8c8c8"/><rect x="25" y="-5" width="10" height="10" fill="#c8c8c8"/><rect x="35" y="-5" width="10" height="10" fill="#c8c8c8"/><rect x="45" y="-5" width="10" height="10" fill="#c8c8c8"/><rect x="55" y="-5" width="10" height="10" fill="#cccccc"/><rect x="65" y="-5" width="10" height="10" fill="#cfcfcf"/><rect x="75" y="-5" width="10" height="10" fill="#d6d6d6"/><rect x="85" y="-5" width="10" height="10" fill="#d6d6d6"/><rect x="95" y="-5" width="10" height="10" fill="#d6d6d6"/><rect x="-5" y="5" width="10" height="10" fill="#c8c8c8"/><rect x="5" y="5" width="10" height="10" fill="#c8c8c8"/><rect x="15" y="5" width="10" height="10" fill="#c8c8c8"/><rect x="25" y="5" width="10" height="10" fill="#c8c8c8"/><rect x="35" y="5" width="10" height="10" fill="#c8c8c8"/><rect x="45" y="5" width="10" height="10" fill="#c8c8c8"/><rect x="55" y="5" width="10" height="10" fill="#cfcfcf"/><rect x="65" y="5" width="10" height="10" fill="#d3d3d3"/><rect x="75" y="5" width="10" height="10" fill="#d6d6d6"/><rect x="85" y="5" width="10" height="10" fill="#d6d6d6"/><rect x="95" y="5" width="10" height="10" fill="#d6d6d6"/><rect x="-5" y="15" width="10" height="10" fill="#d4d4d4"/><rect x="5" y="15" width="10" height="10" fill="#d2d2d2"/><rect x="15" y="15" width="10" height="10" fill="#cdcdcd"/><rect x="25" y="15" width="10" height="10" fill="#c4c4c4"/><rect x="35" y="15" width="10" height="10" fill="#b2b2b2"/><rect x="45" y="15" width="10" height="10" fill="#d6d6d6"/><rect x="55" y="15" width="10" height="10" fill="#d6d6d6"/><rect x="65" y="15" width="10" height="10" fill="#d6d6d6"/><rect x="75" y="15" width="10" height="10" fill="#d6d6d6"/><rect x="85" y="15" width="10" height="10" fill="#d6d6d6"/><rect x="95" y="15" width="10" height="10" fill="#d6d6d6"/><rect x="-5" y="25" width="10" height="10" fill="#d6d6d6"/><rect x="5" y="25" width="10" height="10" fill="#d6d6d6"/><rect x="15" y="25" width="10" height="10" fill="#d6d6d6"/><rect x="25" y="25" width="10" height="10" fill="#d6d6d6"/><rect x="35" y="25" width="10" height="10" fill="#b2b2b2"/><rect x="45" y="25" width="10" height="10" fill="#b2b2b2"/><rect x="55" y="25" width="10" height="10" fill="#c8c8c8"/><rect x="65" y="25" width="10" height="10" fill="#d6d6d6"/><rect x="75" y="25" width="10" height="10" fill="#d6d6d6"/><rect x="85" y="25" width="10" height="10" fill="#d6d6d6"/><rect x="95" y="25" width="10" height="10" fill="#d6d6d6"/><rect x="-5" y="35" width="10" height="10" fill="#d6d6d6"/><rect x="5" y="35" width="10" height="10" fill="#d6d6d6"/><rect x="15" y="35" width="10" height="10" fill="#d6d6d6"/><rect x="25" y="35" width="10" height="10" fill="#d6d6d6"/><rect x="35" y="35" width="10" height="10" fill="#c8c8c8"/><rect x="45" y="35" width="10" height="10" fill="#999999"/><rect x="55" y="35" width="10" height="10" fill="#b2b2b2"/><rect x="65" y="35" width="10" height="10" fill="#d6d6d6"/><rect x="75" y="35" width="10" height="10" fill="#e2e2e2"/><rect x="85" y="35" width="10" height="10" fill="#e2e2e2"/><rect x="95" y="35" width="10" height="10" fill="#d6d6d6"/><rect x="-5" y="45" width="10" height="10" fill="#e2e2e2"/><rect x="5" y="45" width="10" height="10" fill="#e2e2e2"/><rect x="15" y="45" width="10" height="10" fill="#e2e2e2"/><rect x="25" y="45" width="10" height="10" fill="#e2e2e2"/><rect x="35" y="45" width="10" height="10" fill="#e2e2e2"/><rect x="45" y="45" width="10" height="10" fill="#999999"/><rect x="55" y="45" width="10" height="10" fill="#c8c8c8"/><rect x="65" y="45" width="10" height="10" fill="#e2e2e2"/><rect x="75" y="45" width="10" height="10" fill="#e2e2e2"/><rect x="85" y="45" width="10" height="10" fill="#d6d6d6"/><rect x="95" y="45" width="10" height="10" fill="#d6d6d6"/><rect x="-5" y="55" width="10" height="10" fill="#e2e2e2"/><rect x="5" y="55" width="10" height="10" fill="#e2e2e2"/><rect x="15" y="55" width="10" height="10" fill="#e2e2e2"/><rect x="25" y="55" width="10" height="10" fill="#ececec"/><rect x="35" y="55" width="10" height="10" fill="#ececec"/><rect x="45" y="55" width="10" height="10" fill="#e2e2e2"/><rect x="55" y="55" width="10" height="10" fill="#ececec"/><rect x="65" y="55" width="10" height="10" fill="#e2e2e2"/><rect x="75" y="55" width="10" height="10" fill="#ececec"/><rect x="85" y="55" width="10" height="10" fill="#d6d6d6"/><rect x="95" y="55" width="10" height="10" fill="#d6d6d6"/><rect x="-5" y="65" width="10" height="10" fill="#c1c1c1"/><rect x="5" y="65" width="10" height="10" fill="#cfcfcf"/><rect x="15" y="65" width="10" height="10" fill="#ececec"/><rect x="25" y="65" width="10" height="10" fill="#ececec"/><rect x="35" y="65" width="10" height="10" fill="#e2e2e2"/><rect x="45" y="65" width="10" height="10" fill="#ececec"/><rect x="55" y="65" width="10" height="10" fill="#ececec"/><rect x="65" y="65" width="10" height="10" fill="#f5f5f5"/><rect x="75" y="65" width="10" height="10" fill="#f0f0f0"/><rect x="85" y="65" width="10" height="10" fill="#d6d6d6"/><rect x="95" y="65" width="10" height="10" fill="#d6d6d6"/><rect x="-5" y="75" width="10" height="10" fill="#b2b2b2"/><rect x="5" y="75" width="10" height="10" fill="#b2b2b2"/><rect x="15" y="75" width="10" height="10" fill="#e2e2e2"/><rect x="25" y="75" width="10" height="10" fill="#ececec"/><rect x="35" y="75" width="10" height="10" fill="#e2e2e2"/><rect x="45" y="75" width="10" height="10" fill="#e2e2e2"/><rect x="55" y="75" width="10" height="10" fill="#d6d6d6"/><rect x="65" y="75" width="10" height="10" fill="#e6e6e6"/><rect x="75" y="75" width="10" height="10" fill="#ebebeb"/><rect x="85" y="75" width="10" height="10" fill="#d6d6d6"/><rect x="95" y="75" width="10" height="10" fill="#d6d6d6"/><rect x="-5" y="85" width="10" height="10" fill="#d6d6d6"/><rect x="5" y="85" width="10" height="10" fill="#d6d6d6"/><rect x="15" y="85" width="10" height="10" fill="#e2e2e2"/><rect x="25" y="85" width="10" height="10" fill="#e2e2e2"/><rect x="35" y="85" width="10" height="10" fill="#d6d6d6"/><rect x="45" y="85" width="10" height="10" fill="#e2e2e2"/><rect x="55" y="85" width="10" height="10" fill="#dcdcdc"/><rect x="65" y="85" width="10" height="10" fill="#e1e1e1"/><rect x="75" y="85" width="10" height="10" fill="#e6e6e6"/><rect x="85" y="85" width="10" height="10" fill="#d6d6d6"/><rect x="95" y="85" width="10" height="10" fill="#d6d6d6"/><rect x="-5" y="95" width="10" height="10" fill="#d6d6d6"/><rect x="5" y="95" width="10" height="10" fill="#d6d6d6"/><rect x="15" y="95" width="10" height="10" fill="#e2e2e2"/><rect x="25" y="95" width="10" height="10" fill="#e2e2e2"/><rect x="35" y="95" width="10" height="10" fill="#c8c8c8"/><rect x="45" y="95" width="10" height="10" fill="#e2e2e2"/><rect x="55" y="95" width="10" height="10" fill="#e2e2e2"/><rect x="65" y="95" width="10" height="10" fill="#e2e2e2"/><rect x="75" y="95" width="10" height="10" fill="#e2e2e2"/><rect x="85" y="95" width="10" height="10" fill="#dcdcdc"/><rect x="95" y="95" width="10" height="10" fill="#d9d9d9"/><rect x="-5" y="105" width="10" height="10" fill="#e2e2e2"/><rect x="5" y="105" width="10" height="10" fill="#e2e2e2"/><rect x="15" y="105" width="10" height="10" fill="#ececec"/><rect x="25" y="105" width="10" height="10" fill="#ececec"/><rect x="35" y="105" width="10" height="10" fill="#e2e2e2"/><rect x="45" y="105" width="10" height="10" fill="#ececec"/><rect x="55" y="105" width="10" height="10" fill="#ececec"/><rect x="65" y="105" width="10" height="10" fill="#ececec"/><rect x="75" y="105" width="10" height="10" fill="#ececec"/><rect x="85" y="105" width="10" height="10" fill="#ececec"/><rect x="95" y="105" width="10" height="10" fill="#ececec"/><rect x="-5" y="115" width="10" height="10" fill="#e2e2e2"/><rect x="5" y="115" width="10" height="10" fill="#e2e2e2"/><rect x="15" y="115" width="10" height="10" fill="#e2e2e2"/><rect x="25" y="115" width="10" height="10" fill="#ececec"/><rect x="35" y="115" width="10" height="10" fill="#ececec"/><rect x="45" y="115" width="10" height="10" fill="#e2e2e2"/><rect x="55" y="115" width="10" height="10" fill="#e2e2e2"/><rect x="65" y="115" width="10" height="10" fill="#e2e2e2"/><rect x="75" y="115" width="10" height="10" fill="#e2e2e2"/><rect x="85" y="115" width="10" height="10" fill="#e2e2e2"/><rect x="95" y="115" width="10" height="10" fill="#e2e2e2"/><rect x="-5" y="125" width="10" height="10" fill="#e2e2e2"/><rect x="5" y="125" width="10" height="10" fill="#e2e2e2"/><rect x="15" y="125" width="10" height="10" fill="#e2e2e2"/><rect x="25" y="125" width="10" height="10" fill="#ececec"/><rect x="35" y="125" width="10" height="10" fill="#ececec"/><rect x="45" y="125" width="10" height="10" fill="#e2e2e2"/><rect x="55" y="125" width="10" height="10" fill="#e2e2e2"/><rect x="65" y="125" width="10" height="10" fill="#e2e2e2"/><rect x="75" y="125" width="10" height="10" fill="#e2e2e2"/><rect x="85" y="125" width="10" height="10" fill="#e2e2e2"/><rect x="95" y="125" width="10" height="10" fill="#e2e2e2"/></g></g><polygon points="19.6,78.5 20.5,77.6 22.5,77.4 25.0,77.3 27.5,77.4 28.6,78.0 28.8,81.6 27.2,84.4 26.0,87.6 23.6,88.1 21.0,87.0 20.0,84.6 19.6,82.0" fill="#fff" stroke="#666" stroke-width="0.25" stroke-opacity="0.4"/><polyline points="37.5,59.2 37.9,62 38.5,66.3" fill="none" stroke="#fff" stroke-width="0.9" stroke-opacity="0.6"/><line x1="19.8" y1="81.7" x2="28.8" y2="81.7" stroke="#9a7a70" stroke-width="0.35" stroke-opacity="0.6"/><use href="#bord"/><use href="#isl"/><polygon points="47.9,3.9 49.3,6.0 50.7,10.3 52.1,12.5 54.0,14.7 56.5,17.6 59.4,20.5 62.3,23.4 65.2,25.6 67.4,27.8 66.5,29.0 64.8,29.8 66.0,30.6 67.6,31.0 69.6,32.9 71.8,34.3 74.7,34.3 77.6,33.6 82.1,33.1 87.6,32.0 93.0,31.0 96.3,29.9 99.0,29.3 100.1,31.5 100.1,34.8 98.5,39.1 96.3,43.5 93.6,47.9 90.9,52.2 87.6,56.6 83.5,61.0 79.0,65.5 74.0,70.0 69.0,74.0 65.5,77.5 62.0,81.3 58.1,86.6 54.2,91.3 51.8,95.3 50.2,98.4 49.8,103.2 51.0,107.9 51.6,112.6 52.2,118.0 54.6,120.9 51.4,123.1 47.8,124.5 43.2,125.9 38.7,126.3 35.0,126.3 32.8,125.4 31.9,122.7 31.4,119.5 29.6,117.7 25.0,116.3 20.5,114.5 18.1,113.0 14.9,109.1 12.7,104.8 11.0,99.3 10.3,95.4 9.3,91.8 7.8,88.5 10.0,84.4 11.5,81.2 12.3,77.3 14.3,73.3 16.5,70.2 15.9,67.8 16.2,63.2 20.5,62.1 25.5,61.4 28.8,60.6 32.3,59.2 35.3,58.5 34.3,56.2 33.3,53.8 32.3,51.3 30.4,47.8 28.5,46.6 26.4,45.4 25.3,43.9 27.0,42.9 29.4,42.3 29.9,38.0 31.0,33.7 33.4,29.7 35.7,26.6 37.7,23.4 38.5,20.3 38.9,16.3 39.7,12.4 40.5,9.2 42.1,7.7" fill="none" stroke="#151515" stroke-width="0.6" stroke-opacity="0.9"/><rect x="0" y="0" width="107" height="127" fill="none" stroke="#8a8a8a" stroke-width="1.3"/><use href="#cbar"/></g><rect x="414.2" y="341.2" width="132.4" height="160.6" fill="none" stroke="#f3f3f3" stroke-width="0.8"/><g transform="translate(424.5,350.9)"><text x="53.5" y="-3" font-size="4.6" text-anchor="middle" fill="#111">December</text><g clip-path="url(#cl)"><g filter="url(#bl11)"><rect x="-5" y="-5" width="10" height="10" fill="#d6d6d6"/><rect x="5" y="-5" width="10" height="10" fill="#d6d6d6"/><rect x="15" y="-5" width="10" height="10" fill="#d6d6d6"/><rect x="25" y="-5" width="10" height="10" fill="#d6d6d6"/><rect x="35" y="-5" width="10" height="10" fill="#d6d6d6"/><rect x="45" y="-5" width="10" height="10" fill="#d6d6d6"/><rect x="55" y="-5" width="10" height="10" fill="#cdcdcd"/><rect x="65" y="-5" width="10" height="10" fill="#c9c9c9"/><rect x="75" y="-5" width="10" height="10" fill="#999999"/><rect x="85" y="-5" width="10" height="10" fill="#636363"/><rect x="95" y="-5" width="10" height="10" fill="#636363"/><rect x="-5" y="5" width="10" height="10" fill="#d6d6d6"/><rect x="5" y="5" width="10" height="10" fill="#d6d6d6"/><rect x="15" y="5" width="10" height="10" fill="#d6d6d6"/><rect x="25" y="5" width="10" height="10" fill="#d6d6d6"/><rect x="35" y="5" width="10" height="10" fill="#d6d6d6"/><rect x="45" y="5" width="10" height="10" fill="#d6d6d6"/><rect x="55" y="5" width="10" height="10" fill="#c4c4c4"/><rect x="65" y="5" width="10" height="10" fill="#c4c4c4"/><rect x="75" y="5" width="10" height="10" fill="#999999"/><rect x="85" y="5" width="10" height="10" fill="#636363"/><rect x="95" y="5" width="10" height="10" fill="#636363"/><rect x="-5" y="15" width="10" height="10" fill="#d7d7d7"/><rect x="5" y="15" width="10" height="10" fill="#d8d8d8"/><rect x="15" y="15" width="10" height="10" fill="#d9d9d9"/><rect x="25" y="15" width="10" height="10" fill="#dcdcdc"/><rect x="35" y="15" width="10" height="10" fill="#e2e2e2"/><rect x="45" y="15" width="10" height="10" fill="#d6d6d6"/><rect x="55" y="15" width="10" height="10" fill="#b2b2b2"/><rect x="65" y="15" width="10" height="10" fill="#c4c4c4"/><rect x="75" y="15" width="10" height="10" fill="#999999"/><rect x="85" y="15" width="10" height="10" fill="#636363"/><rect x="95" y="15" width="10" height="10" fill="#636363"/><rect x="-5" y="25" width="10" height="10" fill="#d6d6d6"/><rect x="5" y="25" width="10" height="10" fill="#d6d6d6"/><rect x="15" y="25" width="10" height="10" fill="#d6d6d6"/><rect x="25" y="25" width="10" height="10" fill="#d6d6d6"/><rect x="35" y="25" width="10" height="10" fill="#d6d6d6"/><rect x="45" y="25" width="10" height="10" fill="#d6d6d6"/><rect x="55" y="25" width="10" height="10" fill="#c8c8c8"/><rect x="65" y="25" width="10" height="10" fill="#d6d6d6"/><rect x="75" y="25" width="10" height="10" fill="#999999"/><rect x="85" y="25" width="10" height="10" fill="#636363"/><rect x="95" y="25" width="10" height="10" fill="#636363"/><rect x="-5" y="35" width="10" height="10" fill="#c8c8c8"/><rect x="5" y="35" width="10" height="10" fill="#c8c8c8"/><rect x="15" y="35" width="10" height="10" fill="#c8c8c8"/><rect x="25" y="35" width="10" height="10" fill="#c8c8c8"/><rect x="35" y="35" width="10" height="10" fill="#d6d6d6"/><rect x="45" y="35" width="10" height="10" fill="#d6d6d6"/><rect x="55" y="35" width="10" height="10" fill="#d6d6d6"/><rect x="65" y="35" width="10" height="10" fill="#d6d6d6"/><rect x="75" y="35" width="10" height="10" fill="#c8c8c8"/><rect x="85" y="35" width="10" height="10" fill="#999999"/><rect x="95" y="35" width="10" height="10" fill="#c8c8c8"/><rect x="-5" y="45" width="10" height="10" fill="#d2d2d2"/><rect x="5" y="45" width="10" height="10" fill="#cdcdcd"/><rect x="15" y="45" width="10" height="10" fill="#c4c4c4"/><rect x="25" y="45" width="10" height="10" fill="#b2b2b2"/><rect x="35" y="45" width="10" height="10" fill="#e2e2e2"/><rect x="45" y="45" width="10" height="10" fill="#d6d6d6"/><rect x="55" y="45" width="10" height="10" fill="#e2e2e2"/><rect x="65" y="45" width="10" height="10" fill="#d6d6d6"/><rect x="75" y="45" width="10" height="10" fill="#c8c8c8"/><rect x="85" y="45" width="10" height="10" fill="#d6d6d6"/><rect x="95" y="45" width="10" height="10" fill="#cfcfcf"/><rect x="-5" y="55" width="10" height="10" fill="#d6d6d6"/><rect x="5" y="55" width="10" height="10" fill="#d6d6d6"/><rect x="15" y="55" width="10" height="10" fill="#d6d6d6"/><rect x="25" y="55" width="10" height="10" fill="#c8c8c8"/><rect x="35" y="55" width="10" height="10" fill="#c8c8c8"/><rect x="45" y="55" width="10" height="10" fill="#c8c8c8"/><rect x="55" y="55" width="10" height="10" fill="#c8c8c8"/><rect x="65" y="55" width="10" height="10" fill="#c8c8c8"/><rect x="75" y="55" width="10" height="10" fill="#e2e2e2"/><rect x="85" y="55" width="10" height="10" fill="#d6d6d6"/><rect x="95" y="55" width="10" height="10" fill="#d6d6d6"/><rect x="-5" y="65" width="10" height="10" fill="#c3c3c3"/><rect x="5" y="65" width="10" height="10" fill="#bdbdbd"/><rect x="15" y="65" width="10" height="10" fill="#b2b2b2"/><rect x="25" y="65" width="10" height="10" fill="#c8c8c8"/><rect x="35" y="65" width="10" height="10" fill="#e2e2e2"/><rect x="45" y="65" width="10" height="10" fill="#e2e2e2"/><rect x="55" y="65" width="10" height="10" fill="#d6d6d6"/><rect x="65" y="65" width="10" height="10" fill="#c8c8c8"/><rect x="75" y="65" width="10" height="10" fill="#d5d5d5"/><rect x="85" y="65" width="10" height="10" fill="#d6d6d6"/><rect x="95" y="65" width="10" height="10" fill="#d6d6d6"/><rect x="-5" y="75" width="10" height="10" fill="#c8c8c8"/><rect x="5" y="75" width="10" height="10" fill="#c8c8c8"/><rect x="15" y="75" width="10" height="10" fill="#b2b2b2"/><rect x="25" y="75" width="10" height="10" fill="#d6d6d6"/><rect x="35" y="75" width="10" height="10" fill="#e2e2e2"/><rect x="45" y="75" width="10" height="10" fill="#d6d6d6"/><rect x="55" y="75" width="10" height="10" fill="#d6d6d6"/><rect x="65" y="75" width="10" height="10" fill="#cfcfcf"/><rect x="75" y="75" width="10" height="10" fill="#d2d2d2"/><rect x="85" y="75" width="10" height="10" fill="#d6d6d6"/><rect x="95" y="75" width="10" height="10" fill="#d6d6d6"/><rect x="-5" y="85" width="10" height="10" fill="#b2b2b2"/><rect x="5" y="85" width="10" height="10" fill="#b2b2b2"/><rect x="15" y="85" width="10" height="10" fill="#e2e2e2"/><rect x="25" y="85" width="10" height="10" fill="#e2e2e2"/><rect x="35" y="85" width="10" height="10" fill="#ececec"/><rect x="45" y="85" width="10" height="10" fill="#d6d6d6"/><rect x="55" y="85" width="10" height="10" fill="#d6d6d6"/><rect x="65" y="85" width="10" height="10" fill="#d3d3d3"/><rect x="75" y="85" width="10" height="10" fill="#d2d2d2"/><rect x="85" y="85" width="10" height="10" fill="#d6d6d6"/><rect x="95" y="85" width="10" height="10" fill="#d6d6d6"/><rect x="-5" y="95" width="10" height="10" fill="#c8c8c8"/><rect x="5" y="95" width="10" height="10" fill="#c8c8c8"/><rect x="15" y="95" width="10" height="10" fill="#e2e2e2"/><rect x="25" y="95" width="10" height="10" fill="#ececec"/><rect x="35" y="95" width="10" height="10" fill="#e2e2e2"/><rect x="45" y="95" width="10" height="10" fill="#d6d6d6"/><rect x="55" y="95" width="10" height="10" fill="#d6d6d6"/><rect x="65" y="95" width="10" height="10" fill="#d6d6d6"/><rect x="75" y="95" width="10" height="10" fill="#d6d6d6"/><rect x="85" y="95" width="10" height="10" fill="#d6d6d6"/><rect x="95" y="95" width="10" height="10" fill="#d6d6d6"/><rect x="-5" y="105" width="10" height="10" fill="#c8c8c8"/><rect x="5" y="105" width="10" height="10" fill="#c8c8c8"/><rect x="15" y="105" width="10" height="10" fill="#e2e2e2"/><rect x="25" y="105" width="10" height="10" fill="#ececec"/><rect x="35" y="105" width="10" height="10" fill="#e2e2e2"/><rect x="45" y="105" width="10" height="10" fill="#d6d6d6"/><rect x="55" y="105" width="10" height="10" fill="#d6d6d6"/><rect x="65" y="105" width="10" height="10" fill="#d6d6d6"/><rect x="75" y="105" width="10" height="10" fill="#d6d6d6"/><rect x="85" y="105" width="10" height="10" fill="#d6d6d6"/><rect x="95" y="105" width="10" height="10" fill="#d6d6d6"/><rect x="-5" y="115" width="10" height="10" fill="#cccccc"/><rect x="5" y="115" width="10" height="10" fill="#cfcfcf"/><rect x="15" y="115" width="10" height="10" fill="#d6d6d6"/><rect x="25" y="115" width="10" height="10" fill="#d6d6d6"/><rect x="35" y="115" width="10" height="10" fill="#c8c8c8"/><rect x="45" y="115" width="10" height="10" fill="#d6d6d6"/><rect x="55" y="115" width="10" height="10" fill="#d6d6d6"/><rect x="65" y="115" width="10" height="10" fill="#d6d6d6"/><rect x="75" y="115" width="10" height="10" fill="#d6d6d6"/><rect x="85" y="115" width="10" height="10" fill="#d6d6d6"/><rect x="95" y="115" width="10" height="10" fill="#d6d6d6"/><rect x="-5" y="125" width="10" height="10" fill="#cfcfcf"/><rect x="5" y="125" width="10" height="10" fill="#d3d3d3"/><rect x="15" y="125" width="10" height="10" fill="#d6d6d6"/><rect x="25" y="125" width="10" height="10" fill="#d6d6d6"/><rect x="35" y="125" width="10" height="10" fill="#c8c8c8"/><rect x="45" y="125" width="10" height="10" fill="#d6d6d6"/><rect x="55" y="125" width="10" height="10" fill="#d6d6d6"/><rect x="65" y="125" width="10" height="10" fill="#d6d6d6"/><rect x="75" y="125" width="10" height="10" fill="#d6d6d6"/><rect x="85" y="125" width="10" height="10" fill="#d6d6d6"/><rect x="95" y="125" width="10" height="10" fill="#d6d6d6"/></g></g><polygon points="19.6,78.5 20.5,77.6 22.5,77.4 25.0,77.3 27.5,77.4 28.6,78.0 28.8,81.6 27.2,84.4 26.0,87.6 23.6,88.1 21.0,87.0 20.0,84.6 19.6,82.0" fill="#fff" stroke="#666" stroke-width="0.25" stroke-opacity="0.4"/><polyline points="37.5,59.2 37.9,62 38.5,66.3" fill="none" stroke="#fff" stroke-width="0.9" stroke-opacity="0.6"/><line x1="19.8" y1="81.7" x2="28.8" y2="81.7" stroke="#9a7a70" stroke-width="0.35" stroke-opacity="0.6"/><use href="#bord"/><use href="#isl"/><polygon points="47.9,3.9 49.3,6.0 50.7,10.3 52.1,12.5 54.0,14.7 56.5,17.6 59.4,20.5 62.3,23.4 65.2,25.6 67.4,27.8 66.5,29.0 64.8,29.8 66.0,30.6 67.6,31.0 69.6,32.9 71.8,34.3 74.7,34.3 77.6,33.6 82.1,33.1 87.6,32.0 93.0,31.0 96.3,29.9 99.0,29.3 100.1,31.5 100.1,34.8 98.5,39.1 96.3,43.5 93.6,47.9 90.9,52.2 87.6,56.6 83.5,61.0 79.0,65.5 74.0,70.0 69.0,74.0 65.5,77.5 62.0,81.3 58.1,86.6 54.2,91.3 51.8,95.3 50.2,98.4 49.8,103.2 51.0,107.9 51.6,112.6 52.2,118.0 54.6,120.9 51.4,123.1 47.8,124.5 43.2,125.9 38.7,126.3 35.0,126.3 32.8,125.4 31.9,122.7 31.4,119.5 29.6,117.7 25.0,116.3 20.5,114.5 18.1,113.0 14.9,109.1 12.7,104.8 11.0,99.3 10.3,95.4 9.3,91.8 7.8,88.5 10.0,84.4 11.5,81.2 12.3,77.3 14.3,73.3 16.5,70.2 15.9,67.8 16.2,63.2 20.5,62.1 25.5,61.4 28.8,60.6 32.3,59.2 35.3,58.5 34.3,56.2 33.3,53.8 32.3,51.3 30.4,47.8 28.5,46.6 26.4,45.4 25.3,43.9 27.0,42.9 29.4,42.3 29.9,38.0 31.0,33.7 33.4,29.7 35.7,26.6 37.7,23.4 38.5,20.3 38.9,16.3 39.7,12.4 40.5,9.2 42.1,7.7" fill="none" stroke="#151515" stroke-width="0.6" stroke-opacity="0.9"/><rect x="0" y="0" width="107" height="127" fill="none" stroke="#8a8a8a" stroke-width="1.3"/><use href="#cbar"/></g></svg></body></html>
